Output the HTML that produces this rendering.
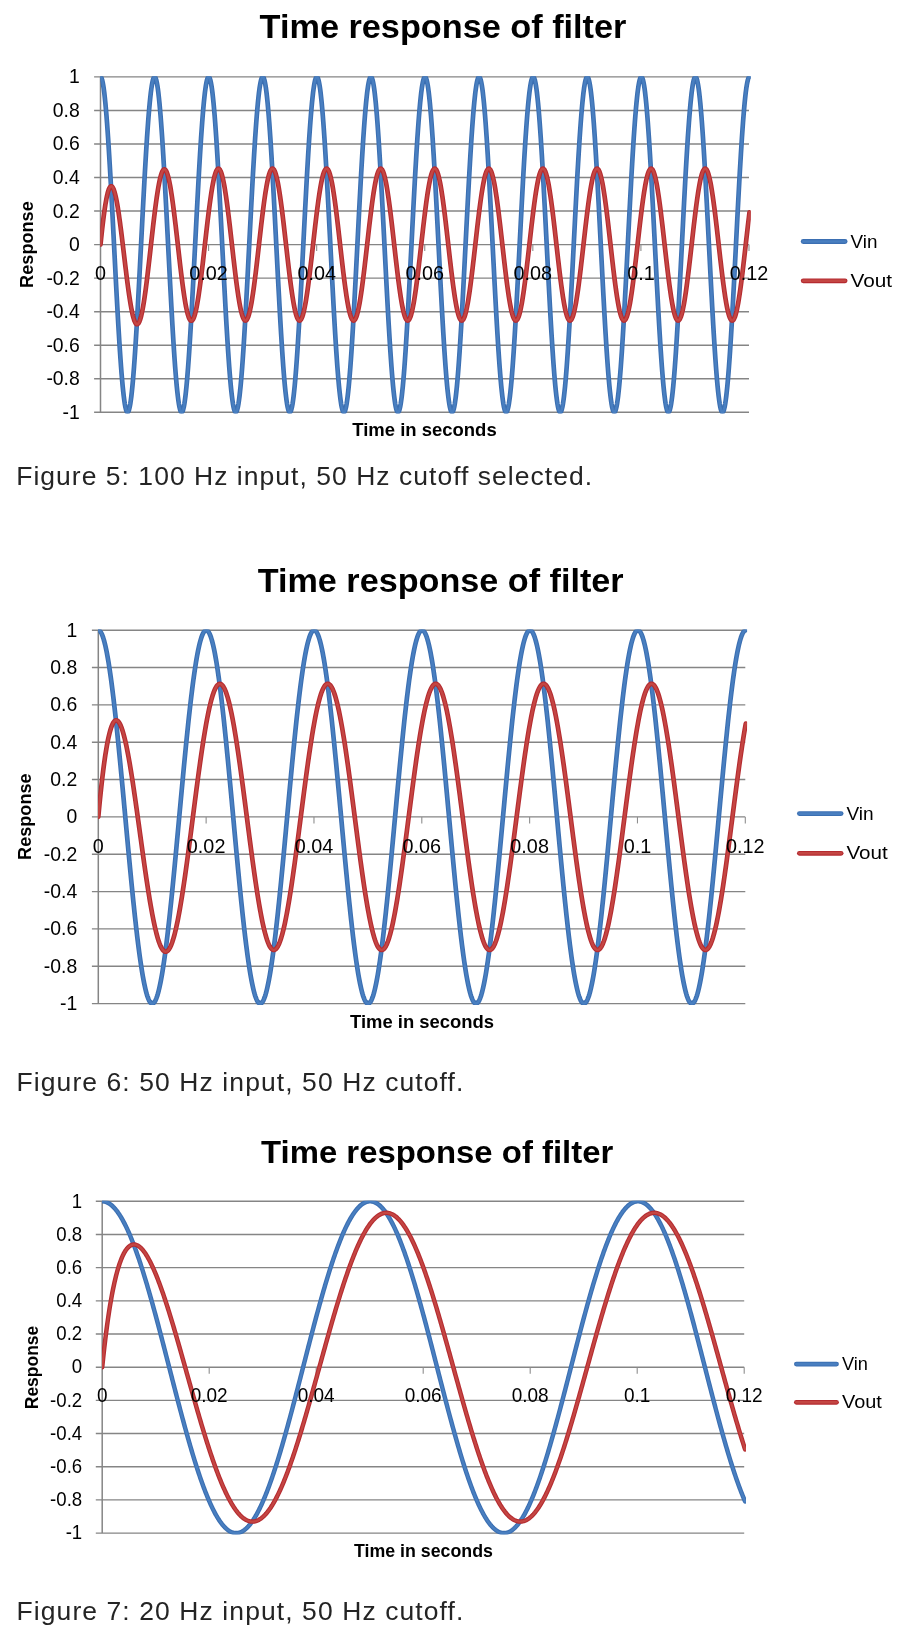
<!DOCTYPE html>
<html><head><meta charset="utf-8"><title>Time response of filter</title>
<style>
html,body{margin:0;padding:0;background:#fff;}
svg{display:block;will-change:transform;}
text{font-family:"Liberation Sans",sans-serif;fill:#000;}
.tk{font-size:18px;}
.ti{font-size:33px;font-weight:bold;}
.ax{font-size:18px;font-weight:bold;}
.cp{font-size:25px;fill:#242424;}
</style></head><body>
<svg width="900" height="1647" viewBox="0 0 900 1647">
<rect width="900" height="1647" fill="#fff"/>
<clipPath id="c1"><rect x="100.3" y="76.30000000000001" width="650.5" height="337.3"/></clipPath>
<line x1="94.10" y1="76.90" x2="749.00" y2="76.90" stroke="#858585" stroke-width="1.4"/>
<line x1="94.10" y1="110.44" x2="749.00" y2="110.44" stroke="#858585" stroke-width="1.4"/>
<line x1="94.10" y1="143.98" x2="749.00" y2="143.98" stroke="#858585" stroke-width="1.4"/>
<line x1="94.10" y1="177.52" x2="749.00" y2="177.52" stroke="#858585" stroke-width="1.4"/>
<line x1="94.10" y1="211.06" x2="749.00" y2="211.06" stroke="#858585" stroke-width="1.4"/>
<line x1="94.10" y1="244.60" x2="749.00" y2="244.60" stroke="#858585" stroke-width="1.4"/>
<line x1="94.10" y1="278.14" x2="749.00" y2="278.14" stroke="#858585" stroke-width="1.4"/>
<line x1="94.10" y1="311.68" x2="749.00" y2="311.68" stroke="#858585" stroke-width="1.4"/>
<line x1="94.10" y1="345.22" x2="749.00" y2="345.22" stroke="#858585" stroke-width="1.4"/>
<line x1="94.10" y1="378.76" x2="749.00" y2="378.76" stroke="#858585" stroke-width="1.4"/>
<line x1="94.10" y1="412.30" x2="749.00" y2="412.30" stroke="#858585" stroke-width="1.4"/>
<line x1="100.50" y1="76.90" x2="100.50" y2="412.30" stroke="#858585" stroke-width="1.5"/>
<line x1="208.58" y1="244.60" x2="208.58" y2="251.10" stroke="#8e8e8e" stroke-width="1.1"/>
<line x1="316.67" y1="244.60" x2="316.67" y2="251.10" stroke="#8e8e8e" stroke-width="1.1"/>
<line x1="424.75" y1="244.60" x2="424.75" y2="251.10" stroke="#8e8e8e" stroke-width="1.1"/>
<line x1="532.83" y1="244.60" x2="532.83" y2="251.10" stroke="#8e8e8e" stroke-width="1.1"/>
<line x1="640.92" y1="244.60" x2="640.92" y2="251.10" stroke="#8e8e8e" stroke-width="1.1"/>
<line x1="749.00" y1="244.60" x2="749.00" y2="251.10" stroke="#8e8e8e" stroke-width="1.1"/>
<text x="79.80" y="83.40" text-anchor="end" textLength="10.78" lengthAdjust="spacingAndGlyphs" class="tk" style="font-size:20.1px">1</text>
<text x="79.80" y="116.94" text-anchor="end" textLength="26.96" lengthAdjust="spacingAndGlyphs" class="tk" style="font-size:20.1px">0.8</text>
<text x="79.80" y="150.48" text-anchor="end" textLength="26.96" lengthAdjust="spacingAndGlyphs" class="tk" style="font-size:20.1px">0.6</text>
<text x="79.80" y="184.02" text-anchor="end" textLength="26.96" lengthAdjust="spacingAndGlyphs" class="tk" style="font-size:20.1px">0.4</text>
<text x="79.80" y="217.56" text-anchor="end" textLength="26.96" lengthAdjust="spacingAndGlyphs" class="tk" style="font-size:20.1px">0.2</text>
<text x="79.80" y="251.10" text-anchor="end" textLength="10.78" lengthAdjust="spacingAndGlyphs" class="tk" style="font-size:20.1px">0</text>
<text x="79.80" y="284.64" text-anchor="end" textLength="33.42" lengthAdjust="spacingAndGlyphs" class="tk" style="font-size:20.1px">-0.2</text>
<text x="79.80" y="318.18" text-anchor="end" textLength="33.42" lengthAdjust="spacingAndGlyphs" class="tk" style="font-size:20.1px">-0.4</text>
<text x="79.80" y="351.72" text-anchor="end" textLength="33.42" lengthAdjust="spacingAndGlyphs" class="tk" style="font-size:20.1px">-0.6</text>
<text x="79.80" y="385.26" text-anchor="end" textLength="33.42" lengthAdjust="spacingAndGlyphs" class="tk" style="font-size:20.1px">-0.8</text>
<text x="79.80" y="418.80" text-anchor="end" textLength="17.24" lengthAdjust="spacingAndGlyphs" class="tk" style="font-size:20.1px">-1</text>
<defs><path id="pi1" d="M100.50,76.90 L101.04,77.23 L101.58,78.22 L102.12,79.87 L102.66,82.17 L103.20,85.11 L103.75,88.68 L104.29,92.86 L104.83,97.64 L105.37,103.01 L105.91,108.93 L106.45,115.38 L106.99,122.35 L107.53,129.80 L108.07,137.70 L108.61,146.03 L109.15,154.74 L109.69,163.81 L110.23,173.20 L110.78,182.87 L111.32,192.78 L111.86,202.89 L112.40,213.18 L112.94,223.58 L113.48,234.07 L114.02,244.60 L114.56,255.13 L115.10,265.62 L115.64,276.02 L116.18,286.31 L116.72,296.42 L117.27,306.33 L117.81,316.00 L118.35,325.39 L118.89,334.46 L119.43,343.17 L119.97,351.50 L120.51,359.40 L121.05,366.85 L121.59,373.82 L122.13,380.27 L122.67,386.19 L123.22,391.56 L123.76,396.34 L124.30,400.52 L124.84,404.09 L125.38,407.03 L125.92,409.33 L126.46,410.98 L127.00,411.97 L127.54,412.30 L128.08,411.97 L128.62,410.98 L129.16,409.33 L129.70,407.03 L130.25,404.09 L130.79,400.52 L131.33,396.34 L131.87,391.56 L132.41,386.19 L132.95,380.27 L133.49,373.82 L134.03,366.85 L134.57,359.40 L135.11,351.50 L135.65,343.17 L136.19,334.46 L136.74,325.39 L137.28,316.00 L137.82,306.33 L138.36,296.42 L138.90,286.31 L139.44,276.02 L139.98,265.62 L140.52,255.13 L141.06,244.60 L141.60,234.07 L142.14,223.58 L142.69,213.18 L143.23,202.89 L143.77,192.78 L144.31,182.87 L144.85,173.20 L145.39,163.81 L145.93,154.74 L146.47,146.03 L147.01,137.70 L147.55,129.80 L148.09,122.35 L148.63,115.38 L149.18,108.93 L149.72,103.01 L150.26,97.64 L150.80,92.86 L151.34,88.68 L151.88,85.11 L152.42,82.17 L152.96,79.87 L153.50,78.22 L154.04,77.23 L154.58,76.90 L155.12,77.23 L155.66,78.22 L156.21,79.87 L156.75,82.17 L157.29,85.11 L157.83,88.68 L158.37,92.86 L158.91,97.64 L159.45,103.01 L159.99,108.93 L160.53,115.38 L161.07,122.35 L161.61,129.80 L162.16,137.70 L162.70,146.03 L163.24,154.74 L163.78,163.81 L164.32,173.20 L164.86,182.87 L165.40,192.78 L165.94,202.89 L166.48,213.18 L167.02,223.58 L167.56,234.07 L168.10,244.60 L168.64,255.13 L169.19,265.62 L169.73,276.02 L170.27,286.31 L170.81,296.42 L171.35,306.33 L171.89,316.00 L172.43,325.39 L172.97,334.46 L173.51,343.17 L174.05,351.50 L174.59,359.40 L175.13,366.85 L175.68,373.82 L176.22,380.27 L176.76,386.19 L177.30,391.56 L177.84,396.34 L178.38,400.52 L178.92,404.09 L179.46,407.03 L180.00,409.33 L180.54,410.98 L181.08,411.97 L181.62,412.30 L182.17,411.97 L182.71,410.98 L183.25,409.33 L183.79,407.03 L184.33,404.09 L184.87,400.52 L185.41,396.34 L185.95,391.56 L186.49,386.19 L187.03,380.27 L187.57,373.82 L188.12,366.85 L188.66,359.40 L189.20,351.50 L189.74,343.17 L190.28,334.46 L190.82,325.39 L191.36,316.00 L191.90,306.33 L192.44,296.42 L192.98,286.31 L193.52,276.02 L194.06,265.62 L194.60,255.13 L195.15,244.60 L195.69,234.07 L196.23,223.58 L196.77,213.18 L197.31,202.89 L197.85,192.78 L198.39,182.87 L198.93,173.20 L199.47,163.81 L200.01,154.74 L200.55,146.03 L201.09,137.70 L201.64,129.80 L202.18,122.35 L202.72,115.38 L203.26,108.93 L203.80,103.01 L204.34,97.64 L204.88,92.86 L205.42,88.68 L205.96,85.11 L206.50,82.17 L207.04,79.87 L207.58,78.22 L208.13,77.23 L208.67,76.90 L209.21,77.23 L209.75,78.22 L210.29,79.87 L210.83,82.17 L211.37,85.11 L211.91,88.68 L212.45,92.86 L212.99,97.64 L213.53,103.01 L214.07,108.93 L214.62,115.38 L215.16,122.35 L215.70,129.80 L216.24,137.70 L216.78,146.03 L217.32,154.74 L217.86,163.81 L218.40,173.20 L218.94,182.87 L219.48,192.78 L220.02,202.89 L220.56,213.18 L221.11,223.58 L221.65,234.07 L222.19,244.60 L222.73,255.13 L223.27,265.62 L223.81,276.02 L224.35,286.31 L224.89,296.42 L225.43,306.33 L225.97,316.00 L226.51,325.39 L227.06,334.46 L227.60,343.17 L228.14,351.50 L228.68,359.40 L229.22,366.85 L229.76,373.82 L230.30,380.27 L230.84,386.19 L231.38,391.56 L231.92,396.34 L232.46,400.52 L233.00,404.09 L233.54,407.03 L234.09,409.33 L234.63,410.98 L235.17,411.97 L235.71,412.30 L236.25,411.97 L236.79,410.98 L237.33,409.33 L237.87,407.03 L238.41,404.09 L238.95,400.52 L239.49,396.34 L240.03,391.56 L240.58,386.19 L241.12,380.27 L241.66,373.82 L242.20,366.85 L242.74,359.40 L243.28,351.50 L243.82,343.17 L244.36,334.46 L244.90,325.39 L245.44,316.00 L245.98,306.33 L246.52,296.42 L247.07,286.31 L247.61,276.02 L248.15,265.62 L248.69,255.13 L249.23,244.60 L249.77,234.07 L250.31,223.58 L250.85,213.18 L251.39,202.89 L251.93,192.78 L252.47,182.87 L253.01,173.20 L253.56,163.81 L254.10,154.74 L254.64,146.03 L255.18,137.70 L255.72,129.80 L256.26,122.35 L256.80,115.38 L257.34,108.93 L257.88,103.01 L258.42,97.64 L258.96,92.86 L259.50,88.68 L260.05,85.11 L260.59,82.17 L261.13,79.87 L261.67,78.22 L262.21,77.23 L262.75,76.90 L263.29,77.23 L263.83,78.22 L264.37,79.87 L264.91,82.17 L265.45,85.11 L266.00,88.68 L266.54,92.86 L267.08,97.64 L267.62,103.01 L268.16,108.93 L268.70,115.38 L269.24,122.35 L269.78,129.80 L270.32,137.70 L270.86,146.03 L271.40,154.74 L271.94,163.81 L272.49,173.20 L273.03,182.87 L273.57,192.78 L274.11,202.89 L274.65,213.18 L275.19,223.58 L275.73,234.07 L276.27,244.60 L276.81,255.13 L277.35,265.62 L277.89,276.02 L278.43,286.31 L278.98,296.42 L279.52,306.33 L280.06,316.00 L280.60,325.39 L281.14,334.46 L281.68,343.17 L282.22,351.50 L282.76,359.40 L283.30,366.85 L283.84,373.82 L284.38,380.27 L284.92,386.19 L285.46,391.56 L286.01,396.34 L286.55,400.52 L287.09,404.09 L287.63,407.03 L288.17,409.33 L288.71,410.98 L289.25,411.97 L289.79,412.30 L290.33,411.97 L290.87,410.98 L291.41,409.33 L291.95,407.03 L292.50,404.09 L293.04,400.52 L293.58,396.34 L294.12,391.56 L294.66,386.19 L295.20,380.27 L295.74,373.82 L296.28,366.85 L296.82,359.40 L297.36,351.50 L297.90,343.17 L298.44,334.46 L298.99,325.39 L299.53,316.00 L300.07,306.33 L300.61,296.42 L301.15,286.31 L301.69,276.02 L302.23,265.62 L302.77,255.13 L303.31,244.60 L303.85,234.07 L304.39,223.58 L304.93,213.18 L305.48,202.89 L306.02,192.78 L306.56,182.87 L307.10,173.20 L307.64,163.81 L308.18,154.74 L308.72,146.03 L309.26,137.70 L309.80,129.80 L310.34,122.35 L310.88,115.38 L311.43,108.93 L311.97,103.01 L312.51,97.64 L313.05,92.86 L313.59,88.68 L314.13,85.11 L314.67,82.17 L315.21,79.87 L315.75,78.22 L316.29,77.23 L316.83,76.90 L317.37,77.23 L317.92,78.22 L318.46,79.87 L319.00,82.17 L319.54,85.11 L320.08,88.68 L320.62,92.86 L321.16,97.64 L321.70,103.01 L322.24,108.93 L322.78,115.38 L323.32,122.35 L323.86,129.80 L324.40,137.70 L324.95,146.03 L325.49,154.74 L326.03,163.81 L326.57,173.20 L327.11,182.87 L327.65,192.78 L328.19,202.89 L328.73,213.18 L329.27,223.58 L329.81,234.07 L330.35,244.60 L330.89,255.13 L331.44,265.62 L331.98,276.02 L332.52,286.31 L333.06,296.42 L333.60,306.33 L334.14,316.00 L334.68,325.39 L335.22,334.46 L335.76,343.17 L336.30,351.50 L336.84,359.40 L337.38,366.85 L337.93,373.82 L338.47,380.27 L339.01,386.19 L339.55,391.56 L340.09,396.34 L340.63,400.52 L341.17,404.09 L341.71,407.03 L342.25,409.33 L342.79,410.98 L343.33,411.97 L343.88,412.30 L344.42,411.97 L344.96,410.98 L345.50,409.33 L346.04,407.03 L346.58,404.09 L347.12,400.52 L347.66,396.34 L348.20,391.56 L348.74,386.19 L349.28,380.27 L349.82,373.82 L350.37,366.85 L350.91,359.40 L351.45,351.50 L351.99,343.17 L352.53,334.46 L353.07,325.39 L353.61,316.00 L354.15,306.33 L354.69,296.42 L355.23,286.31 L355.77,276.02 L356.31,265.62 L356.86,255.13 L357.40,244.60 L357.94,234.07 L358.48,223.58 L359.02,213.18 L359.56,202.89 L360.10,192.78 L360.64,182.87 L361.18,173.20 L361.72,163.81 L362.26,154.74 L362.80,146.03 L363.35,137.70 L363.89,129.80 L364.43,122.35 L364.97,115.38 L365.51,108.93 L366.05,103.01 L366.59,97.64 L367.13,92.86 L367.67,88.68 L368.21,85.11 L368.75,82.17 L369.29,79.87 L369.84,78.22 L370.38,77.23 L370.92,76.90 L371.46,77.23 L372.00,78.22 L372.54,79.87 L373.08,82.17 L373.62,85.11 L374.16,88.68 L374.70,92.86 L375.24,97.64 L375.78,103.01 L376.32,108.93 L376.87,115.38 L377.41,122.35 L377.95,129.80 L378.49,137.70 L379.03,146.03 L379.57,154.74 L380.11,163.81 L380.65,173.20 L381.19,182.87 L381.73,192.78 L382.27,202.89 L382.81,213.18 L383.36,223.58 L383.90,234.07 L384.44,244.60 L384.98,255.13 L385.52,265.62 L386.06,276.02 L386.60,286.31 L387.14,296.42 L387.68,306.33 L388.22,316.00 L388.76,325.39 L389.31,334.46 L389.85,343.17 L390.39,351.50 L390.93,359.40 L391.47,366.85 L392.01,373.82 L392.55,380.27 L393.09,386.19 L393.63,391.56 L394.17,396.34 L394.71,400.52 L395.25,404.09 L395.79,407.03 L396.34,409.33 L396.88,410.98 L397.42,411.97 L397.96,412.30 L398.50,411.97 L399.04,410.98 L399.58,409.33 L400.12,407.03 L400.66,404.09 L401.20,400.52 L401.74,396.34 L402.28,391.56 L402.83,386.19 L403.37,380.27 L403.91,373.82 L404.45,366.85 L404.99,359.40 L405.53,351.50 L406.07,343.17 L406.61,334.46 L407.15,325.39 L407.69,316.00 L408.23,306.33 L408.77,296.42 L409.32,286.31 L409.86,276.02 L410.40,265.62 L410.94,255.13 L411.48,244.60 L412.02,234.07 L412.56,223.58 L413.10,213.18 L413.64,202.89 L414.18,192.78 L414.72,182.87 L415.26,173.20 L415.81,163.81 L416.35,154.74 L416.89,146.03 L417.43,137.70 L417.97,129.80 L418.51,122.35 L419.05,115.38 L419.59,108.93 L420.13,103.01 L420.67,97.64 L421.21,92.86 L421.75,88.68 L422.30,85.11 L422.84,82.17 L423.38,79.87 L423.92,78.22 L424.46,77.23 L425.00,76.90 L425.54,77.23 L426.08,78.22 L426.62,79.87 L427.16,82.17 L427.70,85.11 L428.25,88.68 L428.79,92.86 L429.33,97.64 L429.87,103.01 L430.41,108.93 L430.95,115.38 L431.49,122.35 L432.03,129.80 L432.57,137.70 L433.11,146.03 L433.65,154.74 L434.19,163.81 L434.73,173.20 L435.28,182.87 L435.82,192.78 L436.36,202.89 L436.90,213.18 L437.44,223.58 L437.98,234.07 L438.52,244.60 L439.06,255.13 L439.60,265.62 L440.14,276.02 L440.68,286.31 L441.23,296.42 L441.77,306.33 L442.31,316.00 L442.85,325.39 L443.39,334.46 L443.93,343.17 L444.47,351.50 L445.01,359.40 L445.55,366.85 L446.09,373.82 L446.63,380.27 L447.17,386.19 L447.71,391.56 L448.26,396.34 L448.80,400.52 L449.34,404.09 L449.88,407.03 L450.42,409.33 L450.96,410.98 L451.50,411.97 L452.04,412.30 L452.58,411.97 L453.12,410.98 L453.66,409.33 L454.21,407.03 L454.75,404.09 L455.29,400.52 L455.83,396.34 L456.37,391.56 L456.91,386.19 L457.45,380.27 L457.99,373.82 L458.53,366.85 L459.07,359.40 L459.61,351.50 L460.15,343.17 L460.69,334.46 L461.24,325.39 L461.78,316.00 L462.32,306.33 L462.86,296.42 L463.40,286.31 L463.94,276.02 L464.48,265.62 L465.02,255.13 L465.56,244.60 L466.10,234.07 L466.64,223.58 L467.19,213.18 L467.73,202.89 L468.27,192.78 L468.81,182.87 L469.35,173.20 L469.89,163.81 L470.43,154.74 L470.97,146.03 L471.51,137.70 L472.05,129.80 L472.59,122.35 L473.13,115.38 L473.67,108.93 L474.22,103.01 L474.76,97.64 L475.30,92.86 L475.84,88.68 L476.38,85.11 L476.92,82.17 L477.46,79.87 L478.00,78.22 L478.54,77.23 L479.08,76.90 L479.62,77.23 L480.16,78.22 L480.71,79.87 L481.25,82.17 L481.79,85.11 L482.33,88.68 L482.87,92.86 L483.41,97.64 L483.95,103.01 L484.49,108.93 L485.03,115.38 L485.57,122.35 L486.11,129.80 L486.65,137.70 L487.20,146.03 L487.74,154.74 L488.28,163.81 L488.82,173.20 L489.36,182.87 L489.90,192.78 L490.44,202.89 L490.98,213.18 L491.52,223.58 L492.06,234.07 L492.60,244.60 L493.14,255.13 L493.69,265.62 L494.23,276.02 L494.77,286.31 L495.31,296.42 L495.85,306.33 L496.39,316.00 L496.93,325.39 L497.47,334.46 L498.01,343.17 L498.55,351.50 L499.09,359.40 L499.63,366.85 L500.18,373.82 L500.72,380.27 L501.26,386.19 L501.80,391.56 L502.34,396.34 L502.88,400.52 L503.42,404.09 L503.96,407.03 L504.50,409.33 L505.04,410.98 L505.58,411.97 L506.12,412.30 L506.67,411.97 L507.21,410.98 L507.75,409.33 L508.29,407.03 L508.83,404.09 L509.37,400.52 L509.91,396.34 L510.45,391.56 L510.99,386.19 L511.53,380.27 L512.07,373.82 L512.62,366.85 L513.16,359.40 L513.70,351.50 L514.24,343.17 L514.78,334.46 L515.32,325.39 L515.86,316.00 L516.40,306.33 L516.94,296.42 L517.48,286.31 L518.02,276.02 L518.56,265.62 L519.11,255.13 L519.65,244.60 L520.19,234.07 L520.73,223.58 L521.27,213.18 L521.81,202.89 L522.35,192.78 L522.89,182.87 L523.43,173.20 L523.97,163.81 L524.51,154.74 L525.05,146.03 L525.60,137.70 L526.14,129.80 L526.68,122.35 L527.22,115.38 L527.76,108.93 L528.30,103.01 L528.84,97.64 L529.38,92.86 L529.92,88.68 L530.46,85.11 L531.00,82.17 L531.54,79.87 L532.09,78.22 L532.63,77.23 L533.17,76.90 L533.71,77.23 L534.25,78.22 L534.79,79.87 L535.33,82.17 L535.87,85.11 L536.41,88.68 L536.95,92.86 L537.49,97.64 L538.03,103.01 L538.58,108.93 L539.12,115.38 L539.66,122.35 L540.20,129.80 L540.74,137.70 L541.28,146.03 L541.82,154.74 L542.36,163.81 L542.90,173.20 L543.44,182.87 L543.98,192.78 L544.52,202.89 L545.07,213.18 L545.61,223.58 L546.15,234.07 L546.69,244.60 L547.23,255.13 L547.77,265.62 L548.31,276.02 L548.85,286.31 L549.39,296.42 L549.93,306.33 L550.47,316.00 L551.01,325.39 L551.55,334.46 L552.10,343.17 L552.64,351.50 L553.18,359.40 L553.72,366.85 L554.26,373.82 L554.80,380.27 L555.34,386.19 L555.88,391.56 L556.42,396.34 L556.96,400.52 L557.50,404.09 L558.04,407.03 L558.59,409.33 L559.13,410.98 L559.67,411.97 L560.21,412.30 L560.75,411.97 L561.29,410.98 L561.83,409.33 L562.37,407.03 L562.91,404.09 L563.45,400.52 L563.99,396.34 L564.53,391.56 L565.08,386.19 L565.62,380.27 L566.16,373.82 L566.70,366.85 L567.24,359.40 L567.78,351.50 L568.32,343.17 L568.86,334.46 L569.40,325.39 L569.94,316.00 L570.48,306.33 L571.02,296.42 L571.57,286.31 L572.11,276.02 L572.65,265.62 L573.19,255.13 L573.73,244.60 L574.27,234.07 L574.81,223.58 L575.35,213.18 L575.89,202.89 L576.43,192.78 L576.97,182.87 L577.51,173.20 L578.06,163.81 L578.60,154.74 L579.14,146.03 L579.68,137.70 L580.22,129.80 L580.76,122.35 L581.30,115.38 L581.84,108.93 L582.38,103.01 L582.92,97.64 L583.46,92.86 L584.00,88.68 L584.55,85.11 L585.09,82.17 L585.63,79.87 L586.17,78.22 L586.71,77.23 L587.25,76.90 L587.79,77.23 L588.33,78.22 L588.87,79.87 L589.41,82.17 L589.95,85.11 L590.49,88.68 L591.04,92.86 L591.58,97.64 L592.12,103.01 L592.66,108.93 L593.20,115.38 L593.74,122.35 L594.28,129.80 L594.82,137.70 L595.36,146.03 L595.90,154.74 L596.44,163.81 L596.98,173.20 L597.53,182.87 L598.07,192.78 L598.61,202.89 L599.15,213.18 L599.69,223.58 L600.23,234.07 L600.77,244.60 L601.31,255.13 L601.85,265.62 L602.39,276.02 L602.93,286.31 L603.47,296.42 L604.02,306.33 L604.56,316.00 L605.10,325.39 L605.64,334.46 L606.18,343.17 L606.72,351.50 L607.26,359.40 L607.80,366.85 L608.34,373.82 L608.88,380.27 L609.42,386.19 L609.96,391.56 L610.51,396.34 L611.05,400.52 L611.59,404.09 L612.13,407.03 L612.67,409.33 L613.21,410.98 L613.75,411.97 L614.29,412.30 L614.83,411.97 L615.37,410.98 L615.91,409.33 L616.45,407.03 L617.00,404.09 L617.54,400.52 L618.08,396.34 L618.62,391.56 L619.16,386.19 L619.70,380.27 L620.24,373.82 L620.78,366.85 L621.32,359.40 L621.86,351.50 L622.40,343.17 L622.95,334.46 L623.49,325.39 L624.03,316.00 L624.57,306.33 L625.11,296.42 L625.65,286.31 L626.19,276.02 L626.73,265.62 L627.27,255.13 L627.81,244.60 L628.35,234.07 L628.89,223.58 L629.44,213.18 L629.98,202.89 L630.52,192.78 L631.06,182.87 L631.60,173.20 L632.14,163.81 L632.68,154.74 L633.22,146.03 L633.76,137.70 L634.30,129.80 L634.84,122.35 L635.38,115.38 L635.92,108.93 L636.47,103.01 L637.01,97.64 L637.55,92.86 L638.09,88.68 L638.63,85.11 L639.17,82.17 L639.71,79.87 L640.25,78.22 L640.79,77.23 L641.33,76.90 L641.87,77.23 L642.41,78.22 L642.96,79.87 L643.50,82.17 L644.04,85.11 L644.58,88.68 L645.12,92.86 L645.66,97.64 L646.20,103.01 L646.74,108.93 L647.28,115.38 L647.82,122.35 L648.36,129.80 L648.90,137.70 L649.45,146.03 L649.99,154.74 L650.53,163.81 L651.07,173.20 L651.61,182.87 L652.15,192.78 L652.69,202.89 L653.23,213.18 L653.77,223.58 L654.31,234.07 L654.85,244.60 L655.40,255.13 L655.94,265.62 L656.48,276.02 L657.02,286.31 L657.56,296.42 L658.10,306.33 L658.64,316.00 L659.18,325.39 L659.72,334.46 L660.26,343.17 L660.80,351.50 L661.34,359.40 L661.88,366.85 L662.43,373.82 L662.97,380.27 L663.51,386.19 L664.05,391.56 L664.59,396.34 L665.13,400.52 L665.67,404.09 L666.21,407.03 L666.75,409.33 L667.29,410.98 L667.83,411.97 L668.38,412.30 L668.92,411.97 L669.46,410.98 L670.00,409.33 L670.54,407.03 L671.08,404.09 L671.62,400.52 L672.16,396.34 L672.70,391.56 L673.24,386.19 L673.78,380.27 L674.32,373.82 L674.86,366.85 L675.41,359.40 L675.95,351.50 L676.49,343.17 L677.03,334.46 L677.57,325.39 L678.11,316.00 L678.65,306.33 L679.19,296.42 L679.73,286.31 L680.27,276.02 L680.81,265.62 L681.36,255.13 L681.90,244.60 L682.44,234.07 L682.98,223.58 L683.52,213.18 L684.06,202.89 L684.60,192.78 L685.14,182.87 L685.68,173.20 L686.22,163.81 L686.76,154.74 L687.30,146.03 L687.84,137.70 L688.39,129.80 L688.93,122.35 L689.47,115.38 L690.01,108.93 L690.55,103.01 L691.09,97.64 L691.63,92.86 L692.17,88.68 L692.71,85.11 L693.25,82.17 L693.79,79.87 L694.34,78.22 L694.88,77.23 L695.42,76.90 L695.96,77.23 L696.50,78.22 L697.04,79.87 L697.58,82.17 L698.12,85.11 L698.66,88.68 L699.20,92.86 L699.74,97.64 L700.28,103.01 L700.82,108.93 L701.37,115.38 L701.91,122.35 L702.45,129.80 L702.99,137.70 L703.53,146.03 L704.07,154.74 L704.61,163.81 L705.15,173.20 L705.69,182.87 L706.23,192.78 L706.77,202.89 L707.31,213.18 L707.86,223.58 L708.40,234.07 L708.94,244.60 L709.48,255.13 L710.02,265.62 L710.56,276.02 L711.10,286.31 L711.64,296.42 L712.18,306.33 L712.72,316.00 L713.26,325.39 L713.80,334.46 L714.35,343.17 L714.89,351.50 L715.43,359.40 L715.97,366.85 L716.51,373.82 L717.05,380.27 L717.59,386.19 L718.13,391.56 L718.67,396.34 L719.21,400.52 L719.75,404.09 L720.29,407.03 L720.84,409.33 L721.38,410.98 L721.92,411.97 L722.46,412.30 L723.00,411.97 L723.54,410.98 L724.08,409.33 L724.62,407.03 L725.16,404.09 L725.70,400.52 L726.24,396.34 L726.78,391.56 L727.33,386.19 L727.87,380.27 L728.41,373.82 L728.95,366.85 L729.49,359.40 L730.03,351.50 L730.57,343.17 L731.11,334.46 L731.65,325.39 L732.19,316.00 L732.73,306.33 L733.27,296.42 L733.82,286.31 L734.36,276.02 L734.90,265.62 L735.44,255.13 L735.98,244.60 L736.52,234.07 L737.06,223.58 L737.60,213.18 L738.14,202.89 L738.68,192.78 L739.22,182.87 L739.76,173.20 L740.31,163.81 L740.85,154.74 L741.39,146.03 L741.93,137.70 L742.47,129.80 L743.01,122.35 L743.55,115.38 L744.09,108.93 L744.63,103.01 L745.17,97.64 L745.71,92.86 L746.25,88.68 L746.80,85.11 L747.34,82.17 L747.88,79.87 L748.42,78.22 L748.96,77.23 L749.50,76.90"/><path id="po1" d="M100.50,244.60 L101.04,239.33 L101.58,234.24 L102.12,229.34 L102.66,224.64 L103.20,220.17 L103.75,215.92 L104.29,211.93 L104.83,208.18 L105.37,204.71 L105.91,201.52 L106.45,198.61 L106.99,195.99 L107.53,193.68 L108.07,191.67 L108.61,189.98 L109.15,188.60 L109.69,187.53 L110.23,186.79 L110.78,186.36 L111.32,186.25 L111.86,186.46 L112.40,186.97 L112.94,187.80 L113.48,188.92 L114.02,190.34 L114.56,192.04 L115.10,194.03 L115.64,196.27 L116.18,198.78 L116.72,201.53 L117.27,204.51 L117.81,207.71 L118.35,211.11 L118.89,214.70 L119.43,218.46 L119.97,222.38 L120.51,226.44 L121.05,230.62 L121.59,234.90 L122.13,239.26 L122.67,243.69 L123.22,248.17 L123.76,252.67 L124.30,257.18 L124.84,261.69 L125.38,266.16 L125.92,270.59 L126.46,274.95 L127.00,279.22 L127.54,283.39 L128.08,287.44 L128.62,291.35 L129.16,295.11 L129.70,298.70 L130.25,302.10 L130.79,305.31 L131.33,308.30 L131.87,311.06 L132.41,313.59 L132.95,315.87 L133.49,317.90 L134.03,319.65 L134.57,321.14 L135.11,322.34 L135.65,323.25 L136.19,323.88 L136.74,324.21 L137.28,324.25 L137.82,323.99 L138.36,323.43 L138.90,322.59 L139.44,321.45 L139.98,320.02 L140.52,318.31 L141.06,316.33 L141.60,314.07 L142.14,311.56 L142.69,308.79 L143.23,305.79 L143.77,302.56 L144.31,299.11 L144.85,295.46 L145.39,291.62 L145.93,287.60 L146.47,283.43 L147.01,279.11 L147.55,274.67 L148.09,270.12 L148.63,265.48 L149.18,260.76 L149.72,255.99 L150.26,251.18 L150.80,246.36 L151.34,241.54 L151.88,236.74 L152.42,231.97 L152.96,227.27 L153.50,222.64 L154.04,218.10 L154.58,213.67 L155.12,209.38 L155.66,205.22 L156.21,201.23 L156.75,197.42 L157.29,193.80 L157.83,190.39 L158.37,187.19 L158.91,184.23 L159.45,181.51 L159.99,179.04 L160.53,176.84 L161.07,174.91 L161.61,173.26 L162.16,171.89 L162.70,170.82 L163.24,170.04 L163.78,169.56 L164.32,169.38 L164.86,169.50 L165.40,169.92 L165.94,170.64 L166.48,171.65 L167.02,172.95 L167.56,174.54 L168.10,176.41 L168.64,178.56 L169.19,180.96 L169.73,183.62 L170.27,186.52 L170.81,189.66 L171.35,193.01 L171.89,196.57 L172.43,200.33 L172.97,204.25 L173.51,208.35 L174.05,212.58 L174.59,216.94 L175.13,221.42 L175.68,225.99 L176.22,230.63 L176.76,235.33 L177.30,240.07 L177.84,244.83 L178.38,249.59 L178.92,254.33 L179.46,259.04 L180.00,263.69 L180.54,268.26 L181.08,272.75 L181.62,277.12 L182.17,281.37 L182.71,285.47 L183.25,289.41 L183.79,293.18 L184.33,296.76 L184.87,300.13 L185.41,303.28 L185.95,306.21 L186.49,308.89 L187.03,311.32 L187.57,313.48 L188.12,315.38 L188.66,317.00 L189.20,318.33 L189.74,319.37 L190.28,320.12 L190.82,320.57 L191.36,320.72 L191.90,320.57 L192.44,320.12 L192.98,319.38 L193.52,318.34 L194.06,317.01 L194.60,315.40 L195.15,313.50 L195.69,311.34 L196.23,308.91 L196.77,306.23 L197.31,303.31 L197.85,300.15 L198.39,296.78 L198.93,293.20 L199.47,289.43 L200.01,285.48 L200.55,281.38 L201.09,277.12 L201.64,272.74 L202.18,268.25 L202.72,263.67 L203.26,259.01 L203.80,254.30 L204.34,249.54 L204.88,244.77 L205.42,240.00 L205.96,235.25 L206.50,230.53 L207.04,225.87 L207.58,221.28 L208.13,216.79 L208.67,212.40 L209.21,208.15 L209.75,204.03 L210.29,200.08 L210.83,196.30 L211.37,192.72 L211.91,189.34 L212.45,186.17 L212.99,183.24 L213.53,180.55 L214.07,178.12 L214.62,175.94 L215.16,174.04 L215.70,172.42 L216.24,171.08 L216.78,170.03 L217.32,169.28 L217.86,168.82 L218.40,168.66 L218.94,168.80 L219.48,169.25 L220.02,169.99 L220.56,171.02 L221.11,172.34 L221.65,173.95 L222.19,175.84 L222.73,178.00 L223.27,180.43 L223.81,183.10 L224.35,186.02 L224.89,189.17 L225.43,192.54 L225.97,196.12 L226.51,199.88 L227.06,203.83 L227.60,207.93 L228.14,212.18 L228.68,216.55 L229.22,221.04 L229.76,225.62 L230.30,230.28 L230.84,234.99 L231.38,239.74 L231.92,244.51 L232.46,249.28 L233.00,254.03 L233.54,258.75 L234.09,263.40 L234.63,267.99 L235.17,272.48 L235.71,276.86 L236.25,281.12 L236.79,285.23 L237.33,289.18 L237.87,292.95 L238.41,296.54 L238.95,299.92 L239.49,303.08 L240.03,306.01 L240.58,308.69 L241.12,311.13 L241.66,313.30 L242.20,315.20 L242.74,316.83 L243.28,318.16 L243.82,319.21 L244.36,319.96 L244.90,320.42 L245.44,320.57 L245.98,320.43 L246.52,319.99 L247.07,319.25 L247.61,318.21 L248.15,316.89 L248.69,315.28 L249.23,313.39 L249.77,311.23 L250.31,308.80 L250.85,306.12 L251.39,303.20 L251.93,300.05 L252.47,296.68 L253.01,293.11 L253.56,289.34 L254.10,285.40 L254.64,281.29 L255.18,277.04 L255.72,272.67 L256.26,268.18 L256.80,263.60 L257.34,258.94 L257.88,254.23 L258.42,249.48 L258.96,244.71 L259.50,239.94 L260.05,235.18 L260.59,230.47 L261.13,225.81 L261.67,221.23 L262.21,216.73 L262.75,212.35 L263.29,208.09 L263.83,203.98 L264.37,200.03 L264.91,196.26 L265.45,192.67 L266.00,189.29 L266.54,186.13 L267.08,183.20 L267.62,180.52 L268.16,178.08 L268.70,175.91 L269.24,174.01 L269.78,172.38 L270.32,171.05 L270.86,170.00 L271.40,169.25 L271.94,168.79 L272.49,168.63 L273.03,168.78 L273.57,169.22 L274.11,169.96 L274.65,170.99 L275.19,172.32 L275.73,173.93 L276.27,175.82 L276.81,177.98 L277.35,180.40 L277.89,183.08 L278.43,186.00 L278.98,189.15 L279.52,192.52 L280.06,196.10 L280.60,199.86 L281.14,203.81 L281.68,207.91 L282.22,212.16 L282.76,216.54 L283.30,221.03 L283.84,225.61 L284.38,230.26 L284.92,234.98 L285.46,239.73 L286.01,244.50 L286.55,249.27 L287.09,254.02 L287.63,258.73 L288.17,263.39 L288.71,267.98 L289.25,272.47 L289.79,276.85 L290.33,281.11 L290.87,285.22 L291.41,289.17 L291.95,292.94 L292.50,296.53 L293.04,299.91 L293.58,303.07 L294.12,306.00 L294.66,308.69 L295.20,311.12 L295.74,313.29 L296.28,315.20 L296.82,316.82 L297.36,318.16 L297.90,319.20 L298.44,319.96 L298.99,320.41 L299.53,320.57 L300.07,320.43 L300.61,319.98 L301.15,319.24 L301.69,318.21 L302.23,316.88 L302.77,315.27 L303.31,313.38 L303.85,311.22 L304.39,308.80 L304.93,306.12 L305.48,303.20 L306.02,300.05 L306.56,296.68 L307.10,293.10 L307.64,289.34 L308.18,285.39 L308.72,281.29 L309.26,277.04 L309.80,272.66 L310.34,268.17 L310.88,263.59 L311.43,258.94 L311.97,254.22 L312.51,249.47 L313.05,244.70 L313.59,239.93 L314.13,235.18 L314.67,230.47 L315.21,225.81 L315.75,221.22 L316.29,216.73 L316.83,212.35 L317.37,208.09 L317.92,203.98 L318.46,200.03 L319.00,196.26 L319.54,192.67 L320.08,189.29 L320.62,186.13 L321.16,183.20 L321.70,180.51 L322.24,178.08 L322.78,175.91 L323.32,174.00 L323.86,172.38 L324.40,171.04 L324.95,170.00 L325.49,169.24 L326.03,168.79 L326.57,168.63 L327.11,168.78 L327.65,169.22 L328.19,169.96 L328.73,170.99 L329.27,172.32 L329.81,173.93 L330.35,175.82 L330.89,177.98 L331.44,180.40 L331.98,183.08 L332.52,186.00 L333.06,189.15 L333.60,192.52 L334.14,196.10 L334.68,199.86 L335.22,203.81 L335.76,207.91 L336.30,212.16 L336.84,216.54 L337.38,221.03 L337.93,225.61 L338.47,230.26 L339.01,234.98 L339.55,239.73 L340.09,244.50 L340.63,249.27 L341.17,254.02 L341.71,258.73 L342.25,263.39 L342.79,267.98 L343.33,272.47 L343.88,276.85 L344.42,281.11 L344.96,285.22 L345.50,289.17 L346.04,292.94 L346.58,296.53 L347.12,299.91 L347.66,303.07 L348.20,306.00 L348.74,308.69 L349.28,311.12 L349.82,313.29 L350.37,315.20 L350.91,316.82 L351.45,318.16 L351.99,319.20 L352.53,319.96 L353.07,320.41 L353.61,320.57 L354.15,320.42 L354.69,319.98 L355.23,319.24 L355.77,318.21 L356.31,316.88 L356.86,315.27 L357.40,313.38 L357.94,311.22 L358.48,308.80 L359.02,306.12 L359.56,303.20 L360.10,300.05 L360.64,296.68 L361.18,293.10 L361.72,289.34 L362.26,285.39 L362.80,281.29 L363.35,277.04 L363.89,272.66 L364.43,268.17 L364.97,263.59 L365.51,258.94 L366.05,254.22 L366.59,249.47 L367.13,244.70 L367.67,239.93 L368.21,235.18 L368.75,230.47 L369.29,225.81 L369.84,221.22 L370.38,216.73 L370.92,212.35 L371.46,208.09 L372.00,203.98 L372.54,200.03 L373.08,196.26 L373.62,192.67 L374.16,189.29 L374.70,186.13 L375.24,183.20 L375.78,180.51 L376.32,178.08 L376.87,175.91 L377.41,174.00 L377.95,172.38 L378.49,171.04 L379.03,170.00 L379.57,169.24 L380.11,168.79 L380.65,168.63 L381.19,168.78 L381.73,169.22 L382.27,169.96 L382.81,170.99 L383.36,172.32 L383.90,173.93 L384.44,175.82 L384.98,177.98 L385.52,180.40 L386.06,183.08 L386.60,186.00 L387.14,189.15 L387.68,192.52 L388.22,196.10 L388.76,199.86 L389.31,203.81 L389.85,207.91 L390.39,212.16 L390.93,216.54 L391.47,221.03 L392.01,225.61 L392.55,230.26 L393.09,234.98 L393.63,239.73 L394.17,244.50 L394.71,249.27 L395.25,254.02 L395.79,258.73 L396.34,263.39 L396.88,267.98 L397.42,272.47 L397.96,276.85 L398.50,281.11 L399.04,285.22 L399.58,289.17 L400.12,292.94 L400.66,296.53 L401.20,299.91 L401.74,303.07 L402.28,306.00 L402.83,308.69 L403.37,311.12 L403.91,313.29 L404.45,315.20 L404.99,316.82 L405.53,318.16 L406.07,319.20 L406.61,319.96 L407.15,320.41 L407.69,320.57 L408.23,320.42 L408.77,319.98 L409.32,319.24 L409.86,318.21 L410.40,316.88 L410.94,315.27 L411.48,313.38 L412.02,311.22 L412.56,308.80 L413.10,306.12 L413.64,303.20 L414.18,300.05 L414.72,296.68 L415.26,293.10 L415.81,289.34 L416.35,285.39 L416.89,281.29 L417.43,277.04 L417.97,272.66 L418.51,268.17 L419.05,263.59 L419.59,258.94 L420.13,254.22 L420.67,249.47 L421.21,244.70 L421.75,239.93 L422.30,235.18 L422.84,230.47 L423.38,225.81 L423.92,221.22 L424.46,216.73 L425.00,212.35 L425.54,208.09 L426.08,203.98 L426.62,200.03 L427.16,196.26 L427.70,192.67 L428.25,189.29 L428.79,186.13 L429.33,183.20 L429.87,180.51 L430.41,178.08 L430.95,175.91 L431.49,174.00 L432.03,172.38 L432.57,171.04 L433.11,170.00 L433.65,169.24 L434.19,168.79 L434.73,168.63 L435.28,168.78 L435.82,169.22 L436.36,169.96 L436.90,170.99 L437.44,172.32 L437.98,173.93 L438.52,175.82 L439.06,177.98 L439.60,180.40 L440.14,183.08 L440.68,186.00 L441.23,189.15 L441.77,192.52 L442.31,196.10 L442.85,199.86 L443.39,203.81 L443.93,207.91 L444.47,212.16 L445.01,216.54 L445.55,221.03 L446.09,225.61 L446.63,230.26 L447.17,234.98 L447.71,239.73 L448.26,244.50 L448.80,249.27 L449.34,254.02 L449.88,258.73 L450.42,263.39 L450.96,267.98 L451.50,272.47 L452.04,276.85 L452.58,281.11 L453.12,285.22 L453.66,289.17 L454.21,292.94 L454.75,296.53 L455.29,299.91 L455.83,303.07 L456.37,306.00 L456.91,308.69 L457.45,311.12 L457.99,313.29 L458.53,315.20 L459.07,316.82 L459.61,318.16 L460.15,319.20 L460.69,319.96 L461.24,320.41 L461.78,320.57 L462.32,320.42 L462.86,319.98 L463.40,319.24 L463.94,318.21 L464.48,316.88 L465.02,315.27 L465.56,313.38 L466.10,311.22 L466.64,308.80 L467.19,306.12 L467.73,303.20 L468.27,300.05 L468.81,296.68 L469.35,293.10 L469.89,289.34 L470.43,285.39 L470.97,281.29 L471.51,277.04 L472.05,272.66 L472.59,268.17 L473.13,263.59 L473.67,258.94 L474.22,254.22 L474.76,249.47 L475.30,244.70 L475.84,239.93 L476.38,235.18 L476.92,230.47 L477.46,225.81 L478.00,221.22 L478.54,216.73 L479.08,212.35 L479.62,208.09 L480.16,203.98 L480.71,200.03 L481.25,196.26 L481.79,192.67 L482.33,189.29 L482.87,186.13 L483.41,183.20 L483.95,180.51 L484.49,178.08 L485.03,175.91 L485.57,174.00 L486.11,172.38 L486.65,171.04 L487.20,170.00 L487.74,169.24 L488.28,168.79 L488.82,168.63 L489.36,168.78 L489.90,169.22 L490.44,169.96 L490.98,170.99 L491.52,172.32 L492.06,173.93 L492.60,175.82 L493.14,177.98 L493.69,180.40 L494.23,183.08 L494.77,186.00 L495.31,189.15 L495.85,192.52 L496.39,196.10 L496.93,199.86 L497.47,203.81 L498.01,207.91 L498.55,212.16 L499.09,216.54 L499.63,221.03 L500.18,225.61 L500.72,230.26 L501.26,234.98 L501.80,239.73 L502.34,244.50 L502.88,249.27 L503.42,254.02 L503.96,258.73 L504.50,263.39 L505.04,267.98 L505.58,272.47 L506.12,276.85 L506.67,281.11 L507.21,285.22 L507.75,289.17 L508.29,292.94 L508.83,296.53 L509.37,299.91 L509.91,303.07 L510.45,306.00 L510.99,308.69 L511.53,311.12 L512.07,313.29 L512.62,315.20 L513.16,316.82 L513.70,318.16 L514.24,319.20 L514.78,319.96 L515.32,320.41 L515.86,320.57 L516.40,320.42 L516.94,319.98 L517.48,319.24 L518.02,318.21 L518.56,316.88 L519.11,315.27 L519.65,313.38 L520.19,311.22 L520.73,308.80 L521.27,306.12 L521.81,303.20 L522.35,300.05 L522.89,296.68 L523.43,293.10 L523.97,289.34 L524.51,285.39 L525.05,281.29 L525.60,277.04 L526.14,272.66 L526.68,268.17 L527.22,263.59 L527.76,258.94 L528.30,254.22 L528.84,249.47 L529.38,244.70 L529.92,239.93 L530.46,235.18 L531.00,230.47 L531.54,225.81 L532.09,221.22 L532.63,216.73 L533.17,212.35 L533.71,208.09 L534.25,203.98 L534.79,200.03 L535.33,196.26 L535.87,192.67 L536.41,189.29 L536.95,186.13 L537.49,183.20 L538.03,180.51 L538.58,178.08 L539.12,175.91 L539.66,174.00 L540.20,172.38 L540.74,171.04 L541.28,170.00 L541.82,169.24 L542.36,168.79 L542.90,168.63 L543.44,168.78 L543.98,169.22 L544.52,169.96 L545.07,170.99 L545.61,172.32 L546.15,173.93 L546.69,175.82 L547.23,177.98 L547.77,180.40 L548.31,183.08 L548.85,186.00 L549.39,189.15 L549.93,192.52 L550.47,196.10 L551.01,199.86 L551.55,203.81 L552.10,207.91 L552.64,212.16 L553.18,216.54 L553.72,221.03 L554.26,225.61 L554.80,230.26 L555.34,234.98 L555.88,239.73 L556.42,244.50 L556.96,249.27 L557.50,254.02 L558.04,258.73 L558.59,263.39 L559.13,267.98 L559.67,272.47 L560.21,276.85 L560.75,281.11 L561.29,285.22 L561.83,289.17 L562.37,292.94 L562.91,296.53 L563.45,299.91 L563.99,303.07 L564.53,306.00 L565.08,308.69 L565.62,311.12 L566.16,313.29 L566.70,315.20 L567.24,316.82 L567.78,318.16 L568.32,319.20 L568.86,319.96 L569.40,320.41 L569.94,320.57 L570.48,320.42 L571.02,319.98 L571.57,319.24 L572.11,318.21 L572.65,316.88 L573.19,315.27 L573.73,313.38 L574.27,311.22 L574.81,308.80 L575.35,306.12 L575.89,303.20 L576.43,300.05 L576.97,296.68 L577.51,293.10 L578.06,289.34 L578.60,285.39 L579.14,281.29 L579.68,277.04 L580.22,272.66 L580.76,268.17 L581.30,263.59 L581.84,258.94 L582.38,254.22 L582.92,249.47 L583.46,244.70 L584.00,239.93 L584.55,235.18 L585.09,230.47 L585.63,225.81 L586.17,221.22 L586.71,216.73 L587.25,212.35 L587.79,208.09 L588.33,203.98 L588.87,200.03 L589.41,196.26 L589.95,192.67 L590.49,189.29 L591.04,186.13 L591.58,183.20 L592.12,180.51 L592.66,178.08 L593.20,175.91 L593.74,174.00 L594.28,172.38 L594.82,171.04 L595.36,170.00 L595.90,169.24 L596.44,168.79 L596.98,168.63 L597.53,168.78 L598.07,169.22 L598.61,169.96 L599.15,170.99 L599.69,172.32 L600.23,173.93 L600.77,175.82 L601.31,177.98 L601.85,180.40 L602.39,183.08 L602.93,186.00 L603.47,189.15 L604.02,192.52 L604.56,196.10 L605.10,199.86 L605.64,203.81 L606.18,207.91 L606.72,212.16 L607.26,216.54 L607.80,221.03 L608.34,225.61 L608.88,230.26 L609.42,234.98 L609.96,239.73 L610.51,244.50 L611.05,249.27 L611.59,254.02 L612.13,258.73 L612.67,263.39 L613.21,267.98 L613.75,272.47 L614.29,276.85 L614.83,281.11 L615.37,285.22 L615.91,289.17 L616.45,292.94 L617.00,296.53 L617.54,299.91 L618.08,303.07 L618.62,306.00 L619.16,308.69 L619.70,311.12 L620.24,313.29 L620.78,315.20 L621.32,316.82 L621.86,318.16 L622.40,319.20 L622.95,319.96 L623.49,320.41 L624.03,320.57 L624.57,320.42 L625.11,319.98 L625.65,319.24 L626.19,318.21 L626.73,316.88 L627.27,315.27 L627.81,313.38 L628.35,311.22 L628.89,308.80 L629.44,306.12 L629.98,303.20 L630.52,300.05 L631.06,296.68 L631.60,293.10 L632.14,289.34 L632.68,285.39 L633.22,281.29 L633.76,277.04 L634.30,272.66 L634.84,268.17 L635.38,263.59 L635.92,258.94 L636.47,254.22 L637.01,249.47 L637.55,244.70 L638.09,239.93 L638.63,235.18 L639.17,230.47 L639.71,225.81 L640.25,221.22 L640.79,216.73 L641.33,212.35 L641.87,208.09 L642.41,203.98 L642.96,200.03 L643.50,196.26 L644.04,192.67 L644.58,189.29 L645.12,186.13 L645.66,183.20 L646.20,180.51 L646.74,178.08 L647.28,175.91 L647.82,174.00 L648.36,172.38 L648.90,171.04 L649.45,170.00 L649.99,169.24 L650.53,168.79 L651.07,168.63 L651.61,168.78 L652.15,169.22 L652.69,169.96 L653.23,170.99 L653.77,172.32 L654.31,173.93 L654.85,175.82 L655.40,177.98 L655.94,180.40 L656.48,183.08 L657.02,186.00 L657.56,189.15 L658.10,192.52 L658.64,196.10 L659.18,199.86 L659.72,203.81 L660.26,207.91 L660.80,212.16 L661.34,216.54 L661.88,221.03 L662.43,225.61 L662.97,230.26 L663.51,234.98 L664.05,239.73 L664.59,244.50 L665.13,249.27 L665.67,254.02 L666.21,258.73 L666.75,263.39 L667.29,267.98 L667.83,272.47 L668.38,276.85 L668.92,281.11 L669.46,285.22 L670.00,289.17 L670.54,292.94 L671.08,296.53 L671.62,299.91 L672.16,303.07 L672.70,306.00 L673.24,308.69 L673.78,311.12 L674.32,313.29 L674.86,315.20 L675.41,316.82 L675.95,318.16 L676.49,319.20 L677.03,319.96 L677.57,320.41 L678.11,320.57 L678.65,320.42 L679.19,319.98 L679.73,319.24 L680.27,318.21 L680.81,316.88 L681.36,315.27 L681.90,313.38 L682.44,311.22 L682.98,308.80 L683.52,306.12 L684.06,303.20 L684.60,300.05 L685.14,296.68 L685.68,293.10 L686.22,289.34 L686.76,285.39 L687.30,281.29 L687.84,277.04 L688.39,272.66 L688.93,268.17 L689.47,263.59 L690.01,258.94 L690.55,254.22 L691.09,249.47 L691.63,244.70 L692.17,239.93 L692.71,235.18 L693.25,230.47 L693.79,225.81 L694.34,221.22 L694.88,216.73 L695.42,212.35 L695.96,208.09 L696.50,203.98 L697.04,200.03 L697.58,196.26 L698.12,192.67 L698.66,189.29 L699.20,186.13 L699.74,183.20 L700.28,180.51 L700.82,178.08 L701.37,175.91 L701.91,174.00 L702.45,172.38 L702.99,171.04 L703.53,170.00 L704.07,169.24 L704.61,168.79 L705.15,168.63 L705.69,168.78 L706.23,169.22 L706.77,169.96 L707.31,170.99 L707.86,172.32 L708.40,173.93 L708.94,175.82 L709.48,177.98 L710.02,180.40 L710.56,183.08 L711.10,186.00 L711.64,189.15 L712.18,192.52 L712.72,196.10 L713.26,199.86 L713.80,203.81 L714.35,207.91 L714.89,212.16 L715.43,216.54 L715.97,221.03 L716.51,225.61 L717.05,230.26 L717.59,234.98 L718.13,239.73 L718.67,244.50 L719.21,249.27 L719.75,254.02 L720.29,258.73 L720.84,263.39 L721.38,267.98 L721.92,272.47 L722.46,276.85 L723.00,281.11 L723.54,285.22 L724.08,289.17 L724.62,292.94 L725.16,296.53 L725.70,299.91 L726.24,303.07 L726.78,306.00 L727.33,308.69 L727.87,311.12 L728.41,313.29 L728.95,315.20 L729.49,316.82 L730.03,318.16 L730.57,319.20 L731.11,319.96 L731.65,320.41 L732.19,320.57 L732.73,320.42 L733.27,319.98 L733.82,319.24 L734.36,318.21 L734.90,316.88 L735.44,315.27 L735.98,313.38 L736.52,311.22 L737.06,308.80 L737.60,306.12 L738.14,303.20 L738.68,300.05 L739.22,296.68 L739.76,293.10 L740.31,289.34 L740.85,285.39 L741.39,281.29 L741.93,277.04 L742.47,272.66 L743.01,268.17 L743.55,263.59 L744.09,258.94 L744.63,254.22 L745.17,249.47 L745.71,244.70 L746.25,239.93 L746.80,235.18 L747.34,230.47 L747.88,225.81 L748.42,221.22 L748.96,216.73 L749.50,212.35"/></defs>
<g clip-path="url(#c1)" fill="none" stroke-linejoin="round" stroke-linecap="round">
<use href="#pi1" stroke="#3B6FB2" stroke-width="4.7"/><use href="#pi1" stroke="#497FC0" stroke-width="2.5"/>
<use href="#po1" stroke="#B52B30" stroke-width="4.7"/><use href="#po1" stroke="#C44643" stroke-width="2.5"/>
</g>
<text x="100.50" y="280.00" text-anchor="middle" textLength="11.01" lengthAdjust="spacingAndGlyphs" class="tk" style="font-size:20.1px">0</text>
<text x="208.58" y="280.00" text-anchor="middle" textLength="38.53" lengthAdjust="spacingAndGlyphs" class="tk" style="font-size:20.1px">0.02</text>
<text x="316.67" y="280.00" text-anchor="middle" textLength="38.53" lengthAdjust="spacingAndGlyphs" class="tk" style="font-size:20.1px">0.04</text>
<text x="424.75" y="280.00" text-anchor="middle" textLength="38.53" lengthAdjust="spacingAndGlyphs" class="tk" style="font-size:20.1px">0.06</text>
<text x="532.83" y="280.00" text-anchor="middle" textLength="38.53" lengthAdjust="spacingAndGlyphs" class="tk" style="font-size:20.1px">0.08</text>
<text x="640.92" y="280.00" text-anchor="middle" textLength="27.52" lengthAdjust="spacingAndGlyphs" class="tk" style="font-size:20.1px">0.1</text>
<text x="749.00" y="280.00" text-anchor="middle" textLength="38.53" lengthAdjust="spacingAndGlyphs" class="tk" style="font-size:20.1px">0.12</text>
<text x="259.6" y="38.3" textLength="366.8" lengthAdjust="spacingAndGlyphs" class="ti" style="font-size:33px">Time response of filter</text>
<text x="352.2" y="436.2" textLength="144.5" lengthAdjust="spacingAndGlyphs" class="ax" style="font-size:18.5px">Time in seconds</text>
<text transform="translate(33,287.9) rotate(-90)" x="0" y="0" textLength="86.7" lengthAdjust="spacingAndGlyphs" class="ax" style="font-size:18.5px">Response</text>
<line x1="803.1999999999999" y1="241.5" x2="845.1" y2="241.5" stroke="#3B6FB2" stroke-width="4.8" stroke-linecap="round"/>
<line x1="803.1999999999999" y1="241.5" x2="845.1" y2="241.5" stroke="#497FC0" stroke-width="2.6" stroke-linecap="round"/>
<line x1="803.1999999999999" y1="280.8" x2="845.1" y2="280.8" stroke="#B52B30" stroke-width="4.8" stroke-linecap="round"/>
<line x1="803.1999999999999" y1="280.8" x2="845.1" y2="280.8" stroke="#C44643" stroke-width="2.6" stroke-linecap="round"/>
<text x="850.5" y="247.5" textLength="26.9" lengthAdjust="spacingAndGlyphs" class="tk" style="font-size:18.5px">Vin</text>
<text x="850.5" y="287" textLength="41.6" lengthAdjust="spacingAndGlyphs" class="tk" style="font-size:18.5px">Vout</text>
<text transform="translate(16.2,485.3) scale(1.06,1)" x="0" y="0" textLength="543.3" lengthAdjust="spacing" class="cp">Figure 5: 100 Hz input, 50 Hz cutoff selected.</text>
<clipPath id="c2"><rect x="98.1" y="629.6" width="649.0" height="375.3"/></clipPath>
<line x1="91.90" y1="630.20" x2="745.30" y2="630.20" stroke="#858585" stroke-width="1.4"/>
<line x1="91.90" y1="667.54" x2="745.30" y2="667.54" stroke="#858585" stroke-width="1.4"/>
<line x1="91.90" y1="704.88" x2="745.30" y2="704.88" stroke="#858585" stroke-width="1.4"/>
<line x1="91.90" y1="742.22" x2="745.30" y2="742.22" stroke="#858585" stroke-width="1.4"/>
<line x1="91.90" y1="779.56" x2="745.30" y2="779.56" stroke="#858585" stroke-width="1.4"/>
<line x1="91.90" y1="816.90" x2="745.30" y2="816.90" stroke="#858585" stroke-width="1.4"/>
<line x1="91.90" y1="854.24" x2="745.30" y2="854.24" stroke="#858585" stroke-width="1.4"/>
<line x1="91.90" y1="891.58" x2="745.30" y2="891.58" stroke="#858585" stroke-width="1.4"/>
<line x1="91.90" y1="928.92" x2="745.30" y2="928.92" stroke="#858585" stroke-width="1.4"/>
<line x1="91.90" y1="966.26" x2="745.30" y2="966.26" stroke="#858585" stroke-width="1.4"/>
<line x1="91.90" y1="1003.60" x2="745.30" y2="1003.60" stroke="#858585" stroke-width="1.4"/>
<line x1="98.30" y1="630.20" x2="98.30" y2="1003.60" stroke="#858585" stroke-width="1.5"/>
<line x1="206.13" y1="816.90" x2="206.13" y2="823.40" stroke="#8e8e8e" stroke-width="1.1"/>
<line x1="313.97" y1="816.90" x2="313.97" y2="823.40" stroke="#8e8e8e" stroke-width="1.1"/>
<line x1="421.80" y1="816.90" x2="421.80" y2="823.40" stroke="#8e8e8e" stroke-width="1.1"/>
<line x1="529.63" y1="816.90" x2="529.63" y2="823.40" stroke="#8e8e8e" stroke-width="1.1"/>
<line x1="637.47" y1="816.90" x2="637.47" y2="823.40" stroke="#8e8e8e" stroke-width="1.1"/>
<line x1="745.30" y1="816.90" x2="745.30" y2="823.40" stroke="#8e8e8e" stroke-width="1.1"/>
<text x="77.20" y="636.70" text-anchor="end" textLength="10.78" lengthAdjust="spacingAndGlyphs" class="tk" style="font-size:20.1px">1</text>
<text x="77.20" y="674.04" text-anchor="end" textLength="26.96" lengthAdjust="spacingAndGlyphs" class="tk" style="font-size:20.1px">0.8</text>
<text x="77.20" y="711.38" text-anchor="end" textLength="26.96" lengthAdjust="spacingAndGlyphs" class="tk" style="font-size:20.1px">0.6</text>
<text x="77.20" y="748.72" text-anchor="end" textLength="26.96" lengthAdjust="spacingAndGlyphs" class="tk" style="font-size:20.1px">0.4</text>
<text x="77.20" y="786.06" text-anchor="end" textLength="26.96" lengthAdjust="spacingAndGlyphs" class="tk" style="font-size:20.1px">0.2</text>
<text x="77.20" y="823.40" text-anchor="end" textLength="10.78" lengthAdjust="spacingAndGlyphs" class="tk" style="font-size:20.1px">0</text>
<text x="77.20" y="860.74" text-anchor="end" textLength="33.42" lengthAdjust="spacingAndGlyphs" class="tk" style="font-size:20.1px">-0.2</text>
<text x="77.20" y="898.08" text-anchor="end" textLength="33.42" lengthAdjust="spacingAndGlyphs" class="tk" style="font-size:20.1px">-0.4</text>
<text x="77.20" y="935.42" text-anchor="end" textLength="33.42" lengthAdjust="spacingAndGlyphs" class="tk" style="font-size:20.1px">-0.6</text>
<text x="77.20" y="972.76" text-anchor="end" textLength="33.42" lengthAdjust="spacingAndGlyphs" class="tk" style="font-size:20.1px">-0.8</text>
<text x="77.20" y="1010.10" text-anchor="end" textLength="17.24" lengthAdjust="spacingAndGlyphs" class="tk" style="font-size:20.1px">-1</text>
<defs><path id="pi2" d="M98.30,630.20 L98.84,630.29 L99.38,630.57 L99.92,631.03 L100.46,631.67 L101.00,632.50 L101.54,633.51 L102.08,634.70 L102.62,636.07 L103.16,637.61 L103.70,639.34 L104.24,641.24 L104.77,643.31 L105.31,645.56 L105.85,647.97 L106.39,650.55 L106.93,653.29 L107.47,656.20 L108.01,659.26 L108.55,662.48 L109.09,665.86 L109.63,669.38 L110.17,673.05 L110.71,676.85 L111.25,680.80 L111.79,684.88 L112.33,689.10 L112.87,693.43 L113.41,697.89 L113.95,702.47 L114.49,707.16 L115.03,711.96 L115.57,716.86 L116.11,721.86 L116.65,726.96 L117.19,732.14 L117.72,737.41 L118.26,742.75 L118.80,748.17 L119.34,753.66 L119.88,759.21 L120.42,764.81 L120.96,770.47 L121.50,776.17 L122.04,781.92 L122.58,787.69 L123.12,793.50 L123.66,799.33 L124.20,805.18 L124.74,811.04 L125.28,816.90 L125.82,822.76 L126.36,828.62 L126.90,834.47 L127.44,840.30 L127.98,846.11 L128.52,851.88 L129.06,857.63 L129.60,863.33 L130.14,868.99 L130.67,874.59 L131.21,880.14 L131.75,885.63 L132.29,891.05 L132.83,896.39 L133.37,901.66 L133.91,906.84 L134.45,911.94 L134.99,916.94 L135.53,921.84 L136.07,926.64 L136.61,931.33 L137.15,935.91 L137.69,940.37 L138.23,944.70 L138.77,948.92 L139.31,953.00 L139.85,956.95 L140.39,960.75 L140.93,964.42 L141.47,967.94 L142.01,971.32 L142.55,974.54 L143.09,977.60 L143.62,980.51 L144.16,983.25 L144.70,985.83 L145.24,988.24 L145.78,990.49 L146.32,992.56 L146.86,994.46 L147.40,996.19 L147.94,997.73 L148.48,999.10 L149.02,1000.29 L149.56,1001.30 L150.10,1002.13 L150.64,1002.77 L151.18,1003.23 L151.72,1003.51 L152.26,1003.60 L152.80,1003.51 L153.34,1003.23 L153.88,1002.77 L154.42,1002.13 L154.96,1001.30 L155.50,1000.29 L156.04,999.10 L156.57,997.73 L157.11,996.19 L157.65,994.46 L158.19,992.56 L158.73,990.49 L159.27,988.24 L159.81,985.83 L160.35,983.25 L160.89,980.51 L161.43,977.60 L161.97,974.54 L162.51,971.32 L163.05,967.94 L163.59,964.42 L164.13,960.75 L164.67,956.95 L165.21,953.00 L165.75,948.92 L166.29,944.70 L166.83,940.37 L167.37,935.91 L167.91,931.33 L168.45,926.64 L168.99,921.84 L169.52,916.94 L170.06,911.94 L170.60,906.84 L171.14,901.66 L171.68,896.39 L172.22,891.05 L172.76,885.63 L173.30,880.14 L173.84,874.59 L174.38,868.99 L174.92,863.33 L175.46,857.63 L176.00,851.88 L176.54,846.11 L177.08,840.30 L177.62,834.47 L178.16,828.62 L178.70,822.76 L179.24,816.90 L179.78,811.04 L180.32,805.18 L180.86,799.33 L181.40,793.50 L181.94,787.69 L182.47,781.92 L183.01,776.17 L183.55,770.47 L184.09,764.81 L184.63,759.21 L185.17,753.66 L185.71,748.17 L186.25,742.75 L186.79,737.41 L187.33,732.14 L187.87,726.96 L188.41,721.86 L188.95,716.86 L189.49,711.96 L190.03,707.16 L190.57,702.47 L191.11,697.89 L191.65,693.43 L192.19,689.10 L192.73,684.88 L193.27,680.80 L193.81,676.85 L194.35,673.05 L194.89,669.38 L195.43,665.86 L195.96,662.48 L196.50,659.26 L197.04,656.20 L197.58,653.29 L198.12,650.55 L198.66,647.97 L199.20,645.56 L199.74,643.31 L200.28,641.24 L200.82,639.34 L201.36,637.61 L201.90,636.07 L202.44,634.70 L202.98,633.51 L203.52,632.50 L204.06,631.67 L204.60,631.03 L205.14,630.57 L205.68,630.29 L206.22,630.20 L206.76,630.29 L207.30,630.57 L207.84,631.03 L208.38,631.67 L208.91,632.50 L209.45,633.51 L209.99,634.70 L210.53,636.07 L211.07,637.61 L211.61,639.34 L212.15,641.24 L212.69,643.31 L213.23,645.56 L213.77,647.97 L214.31,650.55 L214.85,653.29 L215.39,656.20 L215.93,659.26 L216.47,662.48 L217.01,665.86 L217.55,669.38 L218.09,673.05 L218.63,676.85 L219.17,680.80 L219.71,684.88 L220.25,689.10 L220.79,693.43 L221.32,697.89 L221.86,702.47 L222.40,707.16 L222.94,711.96 L223.48,716.86 L224.02,721.86 L224.56,726.96 L225.10,732.14 L225.64,737.41 L226.18,742.75 L226.72,748.17 L227.26,753.66 L227.80,759.21 L228.34,764.81 L228.88,770.47 L229.42,776.17 L229.96,781.92 L230.50,787.69 L231.04,793.50 L231.58,799.33 L232.12,805.18 L232.66,811.04 L233.20,816.90 L233.74,822.76 L234.27,828.62 L234.81,834.47 L235.35,840.30 L235.89,846.11 L236.43,851.88 L236.97,857.63 L237.51,863.33 L238.05,868.99 L238.59,874.59 L239.13,880.14 L239.67,885.63 L240.21,891.05 L240.75,896.39 L241.29,901.66 L241.83,906.84 L242.37,911.94 L242.91,916.94 L243.45,921.84 L243.99,926.64 L244.53,931.33 L245.07,935.91 L245.61,940.37 L246.15,944.70 L246.69,948.92 L247.22,953.00 L247.76,956.95 L248.30,960.75 L248.84,964.42 L249.38,967.94 L249.92,971.32 L250.46,974.54 L251.00,977.60 L251.54,980.51 L252.08,983.25 L252.62,985.83 L253.16,988.24 L253.70,990.49 L254.24,992.56 L254.78,994.46 L255.32,996.19 L255.86,997.73 L256.40,999.10 L256.94,1000.29 L257.48,1001.30 L258.02,1002.13 L258.56,1002.77 L259.10,1003.23 L259.64,1003.51 L260.18,1003.60 L260.71,1003.51 L261.25,1003.23 L261.79,1002.77 L262.33,1002.13 L262.87,1001.30 L263.41,1000.29 L263.95,999.10 L264.49,997.73 L265.03,996.19 L265.57,994.46 L266.11,992.56 L266.65,990.49 L267.19,988.24 L267.73,985.83 L268.27,983.25 L268.81,980.51 L269.35,977.60 L269.89,974.54 L270.43,971.32 L270.97,967.94 L271.51,964.42 L272.05,960.75 L272.59,956.95 L273.12,953.00 L273.66,948.92 L274.20,944.70 L274.74,940.37 L275.28,935.91 L275.82,931.33 L276.36,926.64 L276.90,921.84 L277.44,916.94 L277.98,911.94 L278.52,906.84 L279.06,901.66 L279.60,896.39 L280.14,891.05 L280.68,885.63 L281.22,880.14 L281.76,874.59 L282.30,868.99 L282.84,863.33 L283.38,857.63 L283.92,851.88 L284.46,846.11 L285.00,840.30 L285.54,834.47 L286.07,828.62 L286.61,822.76 L287.15,816.90 L287.69,811.04 L288.23,805.18 L288.77,799.33 L289.31,793.50 L289.85,787.69 L290.39,781.92 L290.93,776.17 L291.47,770.47 L292.01,764.81 L292.55,759.21 L293.09,753.66 L293.63,748.17 L294.17,742.75 L294.71,737.41 L295.25,732.14 L295.79,726.96 L296.33,721.86 L296.87,716.86 L297.41,711.96 L297.95,707.16 L298.49,702.47 L299.02,697.89 L299.56,693.43 L300.10,689.10 L300.64,684.88 L301.18,680.80 L301.72,676.85 L302.26,673.05 L302.80,669.38 L303.34,665.86 L303.88,662.48 L304.42,659.26 L304.96,656.20 L305.50,653.29 L306.04,650.55 L306.58,647.97 L307.12,645.56 L307.66,643.31 L308.20,641.24 L308.74,639.34 L309.28,637.61 L309.82,636.07 L310.36,634.70 L310.90,633.51 L311.44,632.50 L311.97,631.67 L312.51,631.03 L313.05,630.57 L313.59,630.29 L314.13,630.20 L314.67,630.29 L315.21,630.57 L315.75,631.03 L316.29,631.67 L316.83,632.50 L317.37,633.51 L317.91,634.70 L318.45,636.07 L318.99,637.61 L319.53,639.34 L320.07,641.24 L320.61,643.31 L321.15,645.56 L321.69,647.97 L322.23,650.55 L322.77,653.29 L323.31,656.20 L323.85,659.26 L324.39,662.48 L324.92,665.86 L325.46,669.38 L326.00,673.05 L326.54,676.85 L327.08,680.80 L327.62,684.88 L328.16,689.10 L328.70,693.43 L329.24,697.89 L329.78,702.47 L330.32,707.16 L330.86,711.96 L331.40,716.86 L331.94,721.86 L332.48,726.96 L333.02,732.14 L333.56,737.41 L334.10,742.75 L334.64,748.17 L335.18,753.66 L335.72,759.21 L336.26,764.81 L336.80,770.47 L337.34,776.17 L337.87,781.92 L338.41,787.69 L338.95,793.50 L339.49,799.33 L340.03,805.18 L340.57,811.04 L341.11,816.90 L341.65,822.76 L342.19,828.62 L342.73,834.47 L343.27,840.30 L343.81,846.11 L344.35,851.88 L344.89,857.63 L345.43,863.33 L345.97,868.99 L346.51,874.59 L347.05,880.14 L347.59,885.63 L348.13,891.05 L348.67,896.39 L349.21,901.66 L349.75,906.84 L350.29,911.94 L350.82,916.94 L351.36,921.84 L351.90,926.64 L352.44,931.33 L352.98,935.91 L353.52,940.37 L354.06,944.70 L354.60,948.92 L355.14,953.00 L355.68,956.95 L356.22,960.75 L356.76,964.42 L357.30,967.94 L357.84,971.32 L358.38,974.54 L358.92,977.60 L359.46,980.51 L360.00,983.25 L360.54,985.83 L361.08,988.24 L361.62,990.49 L362.16,992.56 L362.70,994.46 L363.24,996.19 L363.77,997.73 L364.31,999.10 L364.85,1000.29 L365.39,1001.30 L365.93,1002.13 L366.47,1002.77 L367.01,1003.23 L367.55,1003.51 L368.09,1003.60 L368.63,1003.51 L369.17,1003.23 L369.71,1002.77 L370.25,1002.13 L370.79,1001.30 L371.33,1000.29 L371.87,999.10 L372.41,997.73 L372.95,996.19 L373.49,994.46 L374.03,992.56 L374.57,990.49 L375.11,988.24 L375.65,985.83 L376.19,983.25 L376.72,980.51 L377.26,977.60 L377.80,974.54 L378.34,971.32 L378.88,967.94 L379.42,964.42 L379.96,960.75 L380.50,956.95 L381.04,953.00 L381.58,948.92 L382.12,944.70 L382.66,940.37 L383.20,935.91 L383.74,931.33 L384.28,926.64 L384.82,921.84 L385.36,916.94 L385.90,911.94 L386.44,906.84 L386.98,901.66 L387.52,896.39 L388.06,891.05 L388.60,885.63 L389.14,880.14 L389.68,874.59 L390.21,868.99 L390.75,863.33 L391.29,857.63 L391.83,851.88 L392.37,846.11 L392.91,840.30 L393.45,834.47 L393.99,828.62 L394.53,822.76 L395.07,816.90 L395.61,811.04 L396.15,805.18 L396.69,799.33 L397.23,793.50 L397.77,787.69 L398.31,781.92 L398.85,776.17 L399.39,770.47 L399.93,764.81 L400.47,759.21 L401.01,753.66 L401.55,748.17 L402.09,742.75 L402.62,737.41 L403.16,732.14 L403.70,726.96 L404.24,721.86 L404.78,716.86 L405.32,711.96 L405.86,707.16 L406.40,702.47 L406.94,697.89 L407.48,693.43 L408.02,689.10 L408.56,684.88 L409.10,680.80 L409.64,676.85 L410.18,673.05 L410.72,669.38 L411.26,665.86 L411.80,662.48 L412.34,659.26 L412.88,656.20 L413.42,653.29 L413.96,650.55 L414.50,647.97 L415.04,645.56 L415.58,643.31 L416.11,641.24 L416.65,639.34 L417.19,637.61 L417.73,636.07 L418.27,634.70 L418.81,633.51 L419.35,632.50 L419.89,631.67 L420.43,631.03 L420.97,630.57 L421.51,630.29 L422.05,630.20 L422.59,630.29 L423.13,630.57 L423.67,631.03 L424.21,631.67 L424.75,632.50 L425.29,633.51 L425.83,634.70 L426.37,636.07 L426.91,637.61 L427.45,639.34 L427.99,641.24 L428.52,643.31 L429.06,645.56 L429.60,647.97 L430.14,650.55 L430.68,653.29 L431.22,656.20 L431.76,659.26 L432.30,662.48 L432.84,665.86 L433.38,669.38 L433.92,673.05 L434.46,676.85 L435.00,680.80 L435.54,684.88 L436.08,689.10 L436.62,693.43 L437.16,697.89 L437.70,702.47 L438.24,707.16 L438.78,711.96 L439.32,716.86 L439.86,721.86 L440.40,726.96 L440.94,732.14 L441.47,737.41 L442.01,742.75 L442.55,748.17 L443.09,753.66 L443.63,759.21 L444.17,764.81 L444.71,770.47 L445.25,776.17 L445.79,781.92 L446.33,787.69 L446.87,793.50 L447.41,799.33 L447.95,805.18 L448.49,811.04 L449.03,816.90 L449.57,822.76 L450.11,828.62 L450.65,834.47 L451.19,840.30 L451.73,846.11 L452.27,851.88 L452.81,857.63 L453.35,863.33 L453.89,868.99 L454.42,874.59 L454.96,880.14 L455.50,885.63 L456.04,891.05 L456.58,896.39 L457.12,901.66 L457.66,906.84 L458.20,911.94 L458.74,916.94 L459.28,921.84 L459.82,926.64 L460.36,931.33 L460.90,935.91 L461.44,940.37 L461.98,944.70 L462.52,948.92 L463.06,953.00 L463.60,956.95 L464.14,960.75 L464.68,964.42 L465.22,967.94 L465.76,971.32 L466.30,974.54 L466.84,977.60 L467.38,980.51 L467.91,983.25 L468.45,985.83 L468.99,988.24 L469.53,990.49 L470.07,992.56 L470.61,994.46 L471.15,996.19 L471.69,997.73 L472.23,999.10 L472.77,1000.29 L473.31,1001.30 L473.85,1002.13 L474.39,1002.77 L474.93,1003.23 L475.47,1003.51 L476.01,1003.60 L476.55,1003.51 L477.09,1003.23 L477.63,1002.77 L478.17,1002.13 L478.71,1001.30 L479.25,1000.29 L479.79,999.10 L480.32,997.73 L480.86,996.19 L481.40,994.46 L481.94,992.56 L482.48,990.49 L483.02,988.24 L483.56,985.83 L484.10,983.25 L484.64,980.51 L485.18,977.60 L485.72,974.54 L486.26,971.32 L486.80,967.94 L487.34,964.42 L487.88,960.75 L488.42,956.95 L488.96,953.00 L489.50,948.92 L490.04,944.70 L490.58,940.37 L491.12,935.91 L491.66,931.33 L492.20,926.64 L492.74,921.84 L493.27,916.94 L493.81,911.94 L494.35,906.84 L494.89,901.66 L495.43,896.39 L495.97,891.05 L496.51,885.63 L497.05,880.14 L497.59,874.59 L498.13,868.99 L498.67,863.33 L499.21,857.63 L499.75,851.88 L500.29,846.11 L500.83,840.30 L501.37,834.47 L501.91,828.62 L502.45,822.76 L502.99,816.90 L503.53,811.04 L504.07,805.18 L504.61,799.33 L505.15,793.50 L505.69,787.69 L506.22,781.92 L506.76,776.17 L507.30,770.47 L507.84,764.81 L508.38,759.21 L508.92,753.66 L509.46,748.17 L510.00,742.75 L510.54,737.41 L511.08,732.14 L511.62,726.96 L512.16,721.86 L512.70,716.86 L513.24,711.96 L513.78,707.16 L514.32,702.47 L514.86,697.89 L515.40,693.43 L515.94,689.10 L516.48,684.88 L517.02,680.80 L517.56,676.85 L518.10,673.05 L518.64,669.38 L519.18,665.86 L519.71,662.48 L520.25,659.26 L520.79,656.20 L521.33,653.29 L521.87,650.55 L522.41,647.97 L522.95,645.56 L523.49,643.31 L524.03,641.24 L524.57,639.34 L525.11,637.61 L525.65,636.07 L526.19,634.70 L526.73,633.51 L527.27,632.50 L527.81,631.67 L528.35,631.03 L528.89,630.57 L529.43,630.29 L529.97,630.20 L530.51,630.29 L531.05,630.57 L531.59,631.03 L532.12,631.67 L532.66,632.50 L533.20,633.51 L533.74,634.70 L534.28,636.07 L534.82,637.61 L535.36,639.34 L535.90,641.24 L536.44,643.31 L536.98,645.56 L537.52,647.97 L538.06,650.55 L538.60,653.29 L539.14,656.20 L539.68,659.26 L540.22,662.48 L540.76,665.86 L541.30,669.38 L541.84,673.05 L542.38,676.85 L542.92,680.80 L543.46,684.88 L544.00,689.10 L544.54,693.43 L545.08,697.89 L545.61,702.47 L546.15,707.16 L546.69,711.96 L547.23,716.86 L547.77,721.86 L548.31,726.96 L548.85,732.14 L549.39,737.41 L549.93,742.75 L550.47,748.17 L551.01,753.66 L551.55,759.21 L552.09,764.81 L552.63,770.47 L553.17,776.17 L553.71,781.92 L554.25,787.69 L554.79,793.50 L555.33,799.33 L555.87,805.18 L556.41,811.04 L556.95,816.90 L557.49,822.76 L558.02,828.62 L558.56,834.47 L559.10,840.30 L559.64,846.11 L560.18,851.88 L560.72,857.63 L561.26,863.33 L561.80,868.99 L562.34,874.59 L562.88,880.14 L563.42,885.63 L563.96,891.05 L564.50,896.39 L565.04,901.66 L565.58,906.84 L566.12,911.94 L566.66,916.94 L567.20,921.84 L567.74,926.64 L568.28,931.33 L568.82,935.91 L569.36,940.37 L569.90,944.70 L570.44,948.92 L570.98,953.00 L571.51,956.95 L572.05,960.75 L572.59,964.42 L573.13,967.94 L573.67,971.32 L574.21,974.54 L574.75,977.60 L575.29,980.51 L575.83,983.25 L576.37,985.83 L576.91,988.24 L577.45,990.49 L577.99,992.56 L578.53,994.46 L579.07,996.19 L579.61,997.73 L580.15,999.10 L580.69,1000.29 L581.23,1001.30 L581.77,1002.13 L582.31,1002.77 L582.85,1003.23 L583.39,1003.51 L583.92,1003.60 L584.46,1003.51 L585.00,1003.23 L585.54,1002.77 L586.08,1002.13 L586.62,1001.30 L587.16,1000.29 L587.70,999.10 L588.24,997.73 L588.78,996.19 L589.32,994.46 L589.86,992.56 L590.40,990.49 L590.94,988.24 L591.48,985.83 L592.02,983.25 L592.56,980.51 L593.10,977.60 L593.64,974.54 L594.18,971.32 L594.72,967.94 L595.26,964.42 L595.80,960.75 L596.34,956.95 L596.88,953.00 L597.41,948.92 L597.95,944.70 L598.49,940.37 L599.03,935.91 L599.57,931.33 L600.11,926.64 L600.65,921.84 L601.19,916.94 L601.73,911.94 L602.27,906.84 L602.81,901.66 L603.35,896.39 L603.89,891.05 L604.43,885.63 L604.97,880.14 L605.51,874.59 L606.05,868.99 L606.59,863.33 L607.13,857.63 L607.67,851.88 L608.21,846.11 L608.75,840.30 L609.29,834.47 L609.82,828.62 L610.36,822.76 L610.90,816.90 L611.44,811.04 L611.98,805.18 L612.52,799.33 L613.06,793.50 L613.60,787.69 L614.14,781.92 L614.68,776.17 L615.22,770.47 L615.76,764.81 L616.30,759.21 L616.84,753.66 L617.38,748.17 L617.92,742.75 L618.46,737.41 L619.00,732.14 L619.54,726.96 L620.08,721.86 L620.62,716.86 L621.16,711.96 L621.70,707.16 L622.24,702.47 L622.77,697.89 L623.31,693.43 L623.85,689.10 L624.39,684.88 L624.93,680.80 L625.47,676.85 L626.01,673.05 L626.55,669.38 L627.09,665.86 L627.63,662.48 L628.17,659.26 L628.71,656.20 L629.25,653.29 L629.79,650.55 L630.33,647.97 L630.87,645.56 L631.41,643.31 L631.95,641.24 L632.49,639.34 L633.03,637.61 L633.57,636.07 L634.11,634.70 L634.65,633.51 L635.19,632.50 L635.73,631.67 L636.26,631.03 L636.80,630.57 L637.34,630.29 L637.88,630.20 L638.42,630.29 L638.96,630.57 L639.50,631.03 L640.04,631.67 L640.58,632.50 L641.12,633.51 L641.66,634.70 L642.20,636.07 L642.74,637.61 L643.28,639.34 L643.82,641.24 L644.36,643.31 L644.90,645.56 L645.44,647.97 L645.98,650.55 L646.52,653.29 L647.06,656.20 L647.60,659.26 L648.14,662.48 L648.67,665.86 L649.21,669.38 L649.75,673.05 L650.29,676.85 L650.83,680.80 L651.37,684.88 L651.91,689.10 L652.45,693.43 L652.99,697.89 L653.53,702.47 L654.07,707.16 L654.61,711.96 L655.15,716.86 L655.69,721.86 L656.23,726.96 L656.77,732.14 L657.31,737.41 L657.85,742.75 L658.39,748.17 L658.93,753.66 L659.47,759.21 L660.01,764.81 L660.55,770.47 L661.09,776.17 L661.62,781.92 L662.16,787.69 L662.70,793.50 L663.24,799.33 L663.78,805.18 L664.32,811.04 L664.86,816.90 L665.40,822.76 L665.94,828.62 L666.48,834.47 L667.02,840.30 L667.56,846.11 L668.10,851.88 L668.64,857.63 L669.18,863.33 L669.72,868.99 L670.26,874.59 L670.80,880.14 L671.34,885.63 L671.88,891.05 L672.42,896.39 L672.96,901.66 L673.50,906.84 L674.04,911.94 L674.57,916.94 L675.11,921.84 L675.65,926.64 L676.19,931.33 L676.73,935.91 L677.27,940.37 L677.81,944.70 L678.35,948.92 L678.89,953.00 L679.43,956.95 L679.97,960.75 L680.51,964.42 L681.05,967.94 L681.59,971.32 L682.13,974.54 L682.67,977.60 L683.21,980.51 L683.75,983.25 L684.29,985.83 L684.83,988.24 L685.37,990.49 L685.91,992.56 L686.45,994.46 L686.99,996.19 L687.52,997.73 L688.06,999.10 L688.60,1000.29 L689.14,1001.30 L689.68,1002.13 L690.22,1002.77 L690.76,1003.23 L691.30,1003.51 L691.84,1003.60 L692.38,1003.51 L692.92,1003.23 L693.46,1002.77 L694.00,1002.13 L694.54,1001.30 L695.08,1000.29 L695.62,999.10 L696.16,997.73 L696.70,996.19 L697.24,994.46 L697.78,992.56 L698.32,990.49 L698.86,988.24 L699.40,985.83 L699.94,983.25 L700.47,980.51 L701.01,977.60 L701.55,974.54 L702.09,971.32 L702.63,967.94 L703.17,964.42 L703.71,960.75 L704.25,956.95 L704.79,953.00 L705.33,948.92 L705.87,944.70 L706.41,940.37 L706.95,935.91 L707.49,931.33 L708.03,926.64 L708.57,921.84 L709.11,916.94 L709.65,911.94 L710.19,906.84 L710.73,901.66 L711.27,896.39 L711.81,891.05 L712.35,885.63 L712.89,880.14 L713.42,874.59 L713.96,868.99 L714.50,863.33 L715.04,857.63 L715.58,851.88 L716.12,846.11 L716.66,840.30 L717.20,834.47 L717.74,828.62 L718.28,822.76 L718.82,816.90 L719.36,811.04 L719.90,805.18 L720.44,799.33 L720.98,793.50 L721.52,787.69 L722.06,781.92 L722.60,776.17 L723.14,770.47 L723.68,764.81 L724.22,759.21 L724.76,753.66 L725.30,748.17 L725.84,742.75 L726.38,737.41 L726.91,732.14 L727.45,726.96 L727.99,721.86 L728.53,716.86 L729.07,711.96 L729.61,707.16 L730.15,702.47 L730.69,697.89 L731.23,693.43 L731.77,689.10 L732.31,684.88 L732.85,680.80 L733.39,676.85 L733.93,673.05 L734.47,669.38 L735.01,665.86 L735.55,662.48 L736.09,659.26 L736.63,656.20 L737.17,653.29 L737.71,650.55 L738.25,647.97 L738.79,645.56 L739.32,643.31 L739.86,641.24 L740.40,639.34 L740.94,637.61 L741.48,636.07 L742.02,634.70 L742.56,633.51 L743.10,632.50 L743.64,631.67 L744.18,631.03 L744.72,630.57 L745.26,630.29 L745.80,630.20"/><path id="po2" d="M98.30,816.90 L98.84,811.03 L99.38,805.36 L99.92,799.87 L100.46,794.56 L101.00,789.44 L101.54,784.51 L102.08,779.77 L102.62,775.21 L103.16,770.84 L103.70,766.65 L104.24,762.66 L104.77,758.84 L105.31,755.21 L105.85,751.77 L106.39,748.51 L106.93,745.43 L107.47,742.53 L108.01,739.82 L108.55,737.29 L109.09,734.94 L109.63,732.77 L110.17,730.78 L110.71,728.96 L111.25,727.33 L111.79,725.87 L112.33,724.58 L112.87,723.46 L113.41,722.52 L113.95,721.75 L114.49,721.14 L115.03,720.70 L115.57,720.43 L116.11,720.32 L116.65,720.36 L117.19,720.57 L117.72,720.93 L118.26,721.45 L118.80,722.12 L119.34,722.94 L119.88,723.90 L120.42,725.01 L120.96,726.26 L121.50,727.65 L122.04,729.18 L122.58,730.83 L123.12,732.62 L123.66,734.53 L124.20,736.57 L124.74,738.72 L125.28,741.00 L125.82,743.38 L126.36,745.87 L126.90,748.47 L127.44,751.18 L127.98,753.98 L128.52,756.87 L129.06,759.85 L129.60,762.93 L130.14,766.08 L130.67,769.31 L131.21,772.62 L131.75,776.00 L132.29,779.44 L132.83,782.95 L133.37,786.51 L133.91,790.13 L134.45,793.80 L134.99,797.51 L135.53,801.26 L136.07,805.05 L136.61,808.87 L137.15,812.72 L137.69,816.59 L138.23,820.47 L138.77,824.38 L139.31,828.29 L139.85,832.21 L140.39,836.13 L140.93,840.04 L141.47,843.95 L142.01,847.84 L142.55,851.72 L143.09,855.58 L143.62,859.42 L144.16,863.22 L144.70,866.99 L145.24,870.72 L145.78,874.42 L146.32,878.06 L146.86,881.66 L147.40,885.20 L147.94,888.69 L148.48,892.12 L149.02,895.48 L149.56,898.77 L150.10,901.99 L150.64,905.14 L151.18,908.20 L151.72,911.19 L152.26,914.09 L152.80,916.90 L153.34,919.62 L153.88,922.25 L154.42,924.78 L154.96,927.21 L155.50,929.54 L156.04,931.76 L156.57,933.88 L157.11,935.88 L157.65,937.78 L158.19,939.56 L158.73,941.22 L159.27,942.77 L159.81,944.20 L160.35,945.51 L160.89,946.69 L161.43,947.75 L161.97,948.69 L162.51,949.50 L163.05,950.19 L163.59,950.75 L164.13,951.18 L164.67,951.48 L165.21,951.65 L165.75,951.69 L166.29,951.60 L166.83,951.39 L167.37,951.04 L167.91,950.57 L168.45,949.96 L168.99,949.23 L169.52,948.37 L170.06,947.38 L170.60,946.27 L171.14,945.03 L171.68,943.67 L172.22,942.18 L172.76,940.58 L173.30,938.85 L173.84,937.00 L174.38,935.04 L174.92,932.97 L175.46,930.78 L176.00,928.48 L176.54,926.08 L177.08,923.56 L177.62,920.95 L178.16,918.23 L178.70,915.42 L179.24,912.51 L179.78,909.50 L180.32,906.41 L180.86,903.23 L181.40,899.96 L181.94,896.62 L182.47,893.20 L183.01,889.70 L183.55,886.13 L184.09,882.50 L184.63,878.80 L185.17,875.05 L185.71,871.23 L186.25,867.37 L186.79,863.45 L187.33,859.49 L187.87,855.49 L188.41,851.45 L188.95,847.38 L189.49,843.28 L190.03,839.16 L190.57,835.01 L191.11,830.85 L191.65,826.67 L192.19,822.48 L192.73,818.29 L193.27,814.10 L193.81,809.91 L194.35,805.73 L194.89,801.56 L195.43,797.41 L195.96,793.28 L196.50,789.17 L197.04,785.09 L197.58,781.04 L198.12,777.03 L198.66,773.05 L199.20,769.12 L199.74,765.24 L200.28,761.41 L200.82,757.64 L201.36,753.92 L201.90,750.27 L202.44,746.68 L202.98,743.16 L203.52,739.71 L204.06,736.35 L204.60,733.06 L205.14,729.85 L205.68,726.73 L206.22,723.70 L206.76,720.77 L207.30,717.92 L207.84,715.18 L208.38,712.54 L208.91,710.00 L209.45,707.56 L209.99,705.23 L210.53,703.02 L211.07,700.91 L211.61,698.93 L212.15,697.05 L212.69,695.30 L213.23,693.67 L213.77,692.16 L214.31,690.77 L214.85,689.50 L215.39,688.37 L215.93,687.36 L216.47,686.47 L217.01,685.72 L217.55,685.10 L218.09,684.60 L218.63,684.24 L219.17,684.01 L219.71,683.91 L220.25,683.94 L220.79,684.10 L221.32,684.39 L221.86,684.82 L222.40,685.37 L222.94,686.06 L223.48,686.87 L224.02,687.81 L224.56,688.88 L225.10,690.08 L225.64,691.40 L226.18,692.84 L226.72,694.41 L227.26,696.10 L227.80,697.91 L228.34,699.83 L228.88,701.88 L229.42,704.03 L229.96,706.30 L230.50,708.67 L231.04,711.16 L231.58,713.74 L232.12,716.43 L232.66,719.22 L233.20,722.10 L233.74,725.08 L234.27,728.15 L234.81,731.31 L235.35,734.55 L235.89,737.87 L236.43,741.27 L236.97,744.75 L237.51,748.29 L238.05,751.91 L238.59,755.58 L239.13,759.32 L239.67,763.12 L240.21,766.97 L240.75,770.87 L241.29,774.81 L241.83,778.79 L242.37,782.82 L242.91,786.87 L243.45,790.96 L243.99,795.07 L244.53,799.20 L245.07,803.36 L245.61,807.52 L246.15,811.69 L246.69,815.87 L247.22,820.05 L247.76,824.23 L248.30,828.40 L248.84,832.56 L249.38,836.70 L249.92,840.82 L250.46,844.92 L251.00,848.99 L251.54,853.03 L252.08,857.04 L252.62,861.00 L253.16,864.93 L253.70,868.80 L254.24,872.62 L254.78,876.39 L255.32,880.10 L255.86,883.75 L256.40,887.33 L256.94,890.84 L257.48,894.28 L258.02,897.64 L258.56,900.92 L259.10,904.12 L259.64,907.24 L260.18,910.26 L260.71,913.19 L261.25,916.03 L261.79,918.77 L262.33,921.41 L262.87,923.94 L263.41,926.37 L263.95,928.70 L264.49,930.91 L265.03,933.01 L265.57,934.99 L266.11,936.86 L266.65,938.61 L267.19,940.24 L267.73,941.75 L268.27,943.13 L268.81,944.39 L269.35,945.53 L269.89,946.54 L270.43,947.42 L270.97,948.17 L271.51,948.79 L272.05,949.28 L272.59,949.64 L273.12,949.87 L273.66,949.97 L274.20,949.93 L274.74,949.77 L275.28,949.47 L275.82,949.05 L276.36,948.49 L276.90,947.81 L277.44,946.99 L277.98,946.05 L278.52,944.97 L279.06,943.78 L279.60,942.45 L280.14,941.01 L280.68,939.44 L281.22,937.75 L281.76,935.94 L282.30,934.01 L282.84,931.97 L283.38,929.81 L283.92,927.54 L284.46,925.17 L285.00,922.68 L285.54,920.09 L286.07,917.40 L286.61,914.61 L287.15,911.73 L287.69,908.75 L288.23,905.68 L288.77,902.52 L289.31,899.28 L289.85,895.96 L290.39,892.56 L290.93,889.08 L291.47,885.53 L292.01,881.92 L292.55,878.24 L293.09,874.50 L293.63,870.70 L294.17,866.85 L294.71,862.96 L295.25,859.01 L295.79,855.03 L296.33,851.00 L296.87,846.95 L297.41,842.86 L297.95,838.75 L298.49,834.61 L299.02,830.46 L299.56,826.30 L300.10,822.12 L300.64,817.94 L301.18,813.76 L301.72,809.59 L302.26,805.42 L302.80,801.26 L303.34,797.11 L303.88,792.99 L304.42,788.89 L304.96,784.82 L305.50,780.78 L306.04,776.77 L306.58,772.81 L307.12,768.89 L307.66,765.01 L308.20,761.19 L308.74,757.42 L309.28,753.71 L309.82,750.06 L310.36,746.48 L310.90,742.97 L311.44,739.53 L311.97,736.17 L312.51,732.88 L313.05,729.68 L313.59,726.57 L314.13,723.55 L314.67,720.61 L315.21,717.78 L315.75,715.04 L316.29,712.40 L316.83,709.86 L317.37,707.43 L317.91,705.11 L318.45,702.90 L318.99,700.80 L319.53,698.81 L320.07,696.94 L320.61,695.19 L321.15,693.56 L321.69,692.06 L322.23,690.67 L322.77,689.41 L323.31,688.28 L323.85,687.27 L324.39,686.39 L324.92,685.64 L325.46,685.02 L326.00,684.52 L326.54,684.16 L327.08,683.93 L327.62,683.84 L328.16,683.87 L328.70,684.03 L329.24,684.33 L329.78,684.75 L330.32,685.31 L330.86,686.00 L331.40,686.81 L331.94,687.76 L332.48,688.83 L333.02,690.03 L333.56,691.35 L334.10,692.80 L334.64,694.37 L335.18,696.06 L335.72,697.87 L336.26,699.79 L336.80,701.84 L337.34,703.99 L337.87,706.26 L338.41,708.64 L338.95,711.12 L339.49,713.71 L340.03,716.40 L340.57,719.19 L341.11,722.07 L341.65,725.05 L342.19,728.12 L342.73,731.28 L343.27,734.52 L343.81,737.84 L344.35,741.24 L344.89,744.72 L345.43,748.27 L345.97,751.88 L346.51,755.56 L347.05,759.30 L347.59,763.10 L348.13,766.95 L348.67,770.85 L349.21,774.79 L349.75,778.78 L350.29,782.80 L350.82,786.86 L351.36,790.94 L351.90,795.05 L352.44,799.19 L352.98,803.34 L353.52,807.50 L354.06,811.68 L354.60,815.86 L355.14,820.04 L355.68,824.21 L356.22,828.38 L356.76,832.54 L357.30,836.69 L357.84,840.81 L358.38,844.91 L358.92,848.98 L359.46,853.02 L360.00,857.03 L360.54,860.99 L361.08,864.92 L361.62,868.79 L362.16,872.61 L362.70,876.38 L363.24,880.09 L363.77,883.74 L364.31,887.32 L364.85,890.83 L365.39,894.27 L365.93,897.63 L366.47,900.92 L367.01,904.12 L367.55,907.23 L368.09,910.25 L368.63,913.19 L369.17,916.02 L369.71,918.76 L370.25,921.40 L370.79,923.94 L371.33,926.37 L371.87,928.69 L372.41,930.90 L372.95,933.00 L373.49,934.99 L374.03,936.86 L374.57,938.61 L375.11,940.24 L375.65,941.74 L376.19,943.13 L376.72,944.39 L377.26,945.52 L377.80,946.53 L378.34,947.41 L378.88,948.16 L379.42,948.78 L379.96,949.28 L380.50,949.64 L381.04,949.87 L381.58,949.96 L382.12,949.93 L382.66,949.77 L383.20,949.47 L383.74,949.05 L384.28,948.49 L384.82,947.80 L385.36,946.99 L385.90,946.04 L386.44,944.97 L386.98,943.77 L387.52,942.45 L388.06,941.00 L388.60,939.43 L389.14,937.74 L389.68,935.93 L390.21,934.01 L390.75,931.96 L391.29,929.81 L391.83,927.54 L392.37,925.16 L392.91,922.68 L393.45,920.09 L393.99,917.40 L394.53,914.61 L395.07,911.73 L395.61,908.75 L396.15,905.68 L396.69,902.52 L397.23,899.28 L397.77,895.96 L398.31,892.56 L398.85,889.08 L399.39,885.53 L399.93,881.92 L400.47,878.24 L401.01,874.50 L401.55,870.70 L402.09,866.85 L402.62,862.95 L403.16,859.01 L403.70,855.02 L404.24,851.00 L404.78,846.94 L405.32,842.86 L405.86,838.75 L406.40,834.61 L406.94,830.46 L407.48,826.30 L408.02,822.12 L408.56,817.94 L409.10,813.76 L409.64,809.59 L410.18,805.42 L410.72,801.26 L411.26,797.11 L411.80,792.99 L412.34,788.89 L412.88,784.82 L413.42,780.78 L413.96,776.77 L414.50,772.81 L415.04,768.88 L415.58,765.01 L416.11,761.19 L416.65,757.42 L417.19,753.71 L417.73,750.06 L418.27,746.48 L418.81,742.97 L419.35,739.53 L419.89,736.17 L420.43,732.88 L420.97,729.68 L421.51,726.57 L422.05,723.55 L422.59,720.61 L423.13,717.78 L423.67,715.04 L424.21,712.40 L424.75,709.86 L425.29,707.43 L425.83,705.11 L426.37,702.90 L426.91,700.80 L427.45,698.81 L427.99,696.94 L428.52,695.19 L429.06,693.56 L429.60,692.06 L430.14,690.67 L430.68,689.41 L431.22,688.28 L431.76,687.27 L432.30,686.39 L432.84,685.64 L433.38,685.02 L433.92,684.52 L434.46,684.16 L435.00,683.93 L435.54,683.84 L436.08,683.87 L436.62,684.03 L437.16,684.33 L437.70,684.75 L438.24,685.31 L438.78,686.00 L439.32,686.81 L439.86,687.76 L440.40,688.83 L440.94,690.03 L441.47,691.35 L442.01,692.80 L442.55,694.37 L443.09,696.06 L443.63,697.87 L444.17,699.79 L444.71,701.84 L445.25,703.99 L445.79,706.26 L446.33,708.64 L446.87,711.12 L447.41,713.71 L447.95,716.40 L448.49,719.19 L449.03,722.07 L449.57,725.05 L450.11,728.12 L450.65,731.28 L451.19,734.52 L451.73,737.84 L452.27,741.24 L452.81,744.72 L453.35,748.27 L453.89,751.88 L454.42,755.56 L454.96,759.30 L455.50,763.10 L456.04,766.95 L456.58,770.85 L457.12,774.79 L457.66,778.78 L458.20,782.80 L458.74,786.86 L459.28,790.94 L459.82,795.05 L460.36,799.19 L460.90,803.34 L461.44,807.50 L461.98,811.68 L462.52,815.86 L463.06,820.04 L463.60,824.21 L464.14,828.38 L464.68,832.54 L465.22,836.69 L465.76,840.81 L466.30,844.91 L466.84,848.98 L467.38,853.02 L467.91,857.03 L468.45,860.99 L468.99,864.92 L469.53,868.79 L470.07,872.61 L470.61,876.38 L471.15,880.09 L471.69,883.74 L472.23,887.32 L472.77,890.83 L473.31,894.27 L473.85,897.63 L474.39,900.92 L474.93,904.12 L475.47,907.23 L476.01,910.25 L476.55,913.19 L477.09,916.02 L477.63,918.76 L478.17,921.40 L478.71,923.94 L479.25,926.37 L479.79,928.69 L480.32,930.90 L480.86,933.00 L481.40,934.99 L481.94,936.86 L482.48,938.61 L483.02,940.24 L483.56,941.74 L484.10,943.13 L484.64,944.39 L485.18,945.52 L485.72,946.53 L486.26,947.41 L486.80,948.16 L487.34,948.78 L487.88,949.28 L488.42,949.64 L488.96,949.87 L489.50,949.96 L490.04,949.93 L490.58,949.77 L491.12,949.47 L491.66,949.05 L492.20,948.49 L492.74,947.80 L493.27,946.99 L493.81,946.04 L494.35,944.97 L494.89,943.77 L495.43,942.45 L495.97,941.00 L496.51,939.43 L497.05,937.74 L497.59,935.93 L498.13,934.01 L498.67,931.96 L499.21,929.81 L499.75,927.54 L500.29,925.16 L500.83,922.68 L501.37,920.09 L501.91,917.40 L502.45,914.61 L502.99,911.73 L503.53,908.75 L504.07,905.68 L504.61,902.52 L505.15,899.28 L505.69,895.96 L506.22,892.56 L506.76,889.08 L507.30,885.53 L507.84,881.92 L508.38,878.24 L508.92,874.50 L509.46,870.70 L510.00,866.85 L510.54,862.95 L511.08,859.01 L511.62,855.02 L512.16,851.00 L512.70,846.94 L513.24,842.86 L513.78,838.75 L514.32,834.61 L514.86,830.46 L515.40,826.30 L515.94,822.12 L516.48,817.94 L517.02,813.76 L517.56,809.59 L518.10,805.42 L518.64,801.26 L519.18,797.11 L519.71,792.99 L520.25,788.89 L520.79,784.82 L521.33,780.78 L521.87,776.77 L522.41,772.81 L522.95,768.88 L523.49,765.01 L524.03,761.19 L524.57,757.42 L525.11,753.71 L525.65,750.06 L526.19,746.48 L526.73,742.97 L527.27,739.53 L527.81,736.17 L528.35,732.88 L528.89,729.68 L529.43,726.57 L529.97,723.55 L530.51,720.61 L531.05,717.78 L531.59,715.04 L532.12,712.40 L532.66,709.86 L533.20,707.43 L533.74,705.11 L534.28,702.90 L534.82,700.80 L535.36,698.81 L535.90,696.94 L536.44,695.19 L536.98,693.56 L537.52,692.06 L538.06,690.67 L538.60,689.41 L539.14,688.28 L539.68,687.27 L540.22,686.39 L540.76,685.64 L541.30,685.02 L541.84,684.52 L542.38,684.16 L542.92,683.93 L543.46,683.84 L544.00,683.87 L544.54,684.03 L545.08,684.33 L545.61,684.75 L546.15,685.31 L546.69,686.00 L547.23,686.81 L547.77,687.76 L548.31,688.83 L548.85,690.03 L549.39,691.35 L549.93,692.80 L550.47,694.37 L551.01,696.06 L551.55,697.87 L552.09,699.79 L552.63,701.84 L553.17,703.99 L553.71,706.26 L554.25,708.64 L554.79,711.12 L555.33,713.71 L555.87,716.40 L556.41,719.19 L556.95,722.07 L557.49,725.05 L558.02,728.12 L558.56,731.28 L559.10,734.52 L559.64,737.84 L560.18,741.24 L560.72,744.72 L561.26,748.27 L561.80,751.88 L562.34,755.56 L562.88,759.30 L563.42,763.10 L563.96,766.95 L564.50,770.85 L565.04,774.79 L565.58,778.78 L566.12,782.80 L566.66,786.86 L567.20,790.94 L567.74,795.05 L568.28,799.19 L568.82,803.34 L569.36,807.50 L569.90,811.68 L570.44,815.86 L570.98,820.04 L571.51,824.21 L572.05,828.38 L572.59,832.54 L573.13,836.69 L573.67,840.81 L574.21,844.91 L574.75,848.98 L575.29,853.02 L575.83,857.03 L576.37,860.99 L576.91,864.92 L577.45,868.79 L577.99,872.61 L578.53,876.38 L579.07,880.09 L579.61,883.74 L580.15,887.32 L580.69,890.83 L581.23,894.27 L581.77,897.63 L582.31,900.92 L582.85,904.12 L583.39,907.23 L583.92,910.25 L584.46,913.19 L585.00,916.02 L585.54,918.76 L586.08,921.40 L586.62,923.94 L587.16,926.37 L587.70,928.69 L588.24,930.90 L588.78,933.00 L589.32,934.99 L589.86,936.86 L590.40,938.61 L590.94,940.24 L591.48,941.74 L592.02,943.13 L592.56,944.39 L593.10,945.52 L593.64,946.53 L594.18,947.41 L594.72,948.16 L595.26,948.78 L595.80,949.28 L596.34,949.64 L596.88,949.87 L597.41,949.96 L597.95,949.93 L598.49,949.77 L599.03,949.47 L599.57,949.05 L600.11,948.49 L600.65,947.80 L601.19,946.99 L601.73,946.04 L602.27,944.97 L602.81,943.77 L603.35,942.45 L603.89,941.00 L604.43,939.43 L604.97,937.74 L605.51,935.93 L606.05,934.01 L606.59,931.96 L607.13,929.81 L607.67,927.54 L608.21,925.16 L608.75,922.68 L609.29,920.09 L609.82,917.40 L610.36,914.61 L610.90,911.73 L611.44,908.75 L611.98,905.68 L612.52,902.52 L613.06,899.28 L613.60,895.96 L614.14,892.56 L614.68,889.08 L615.22,885.53 L615.76,881.92 L616.30,878.24 L616.84,874.50 L617.38,870.70 L617.92,866.85 L618.46,862.95 L619.00,859.01 L619.54,855.02 L620.08,851.00 L620.62,846.94 L621.16,842.86 L621.70,838.75 L622.24,834.61 L622.77,830.46 L623.31,826.30 L623.85,822.12 L624.39,817.94 L624.93,813.76 L625.47,809.59 L626.01,805.42 L626.55,801.26 L627.09,797.11 L627.63,792.99 L628.17,788.89 L628.71,784.82 L629.25,780.78 L629.79,776.77 L630.33,772.81 L630.87,768.88 L631.41,765.01 L631.95,761.19 L632.49,757.42 L633.03,753.71 L633.57,750.06 L634.11,746.48 L634.65,742.97 L635.19,739.53 L635.73,736.17 L636.26,732.88 L636.80,729.68 L637.34,726.57 L637.88,723.55 L638.42,720.61 L638.96,717.78 L639.50,715.04 L640.04,712.40 L640.58,709.86 L641.12,707.43 L641.66,705.11 L642.20,702.90 L642.74,700.80 L643.28,698.81 L643.82,696.94 L644.36,695.19 L644.90,693.56 L645.44,692.06 L645.98,690.67 L646.52,689.41 L647.06,688.28 L647.60,687.27 L648.14,686.39 L648.67,685.64 L649.21,685.02 L649.75,684.52 L650.29,684.16 L650.83,683.93 L651.37,683.84 L651.91,683.87 L652.45,684.03 L652.99,684.33 L653.53,684.75 L654.07,685.31 L654.61,686.00 L655.15,686.81 L655.69,687.76 L656.23,688.83 L656.77,690.03 L657.31,691.35 L657.85,692.80 L658.39,694.37 L658.93,696.06 L659.47,697.87 L660.01,699.79 L660.55,701.84 L661.09,703.99 L661.62,706.26 L662.16,708.64 L662.70,711.12 L663.24,713.71 L663.78,716.40 L664.32,719.19 L664.86,722.07 L665.40,725.05 L665.94,728.12 L666.48,731.28 L667.02,734.52 L667.56,737.84 L668.10,741.24 L668.64,744.72 L669.18,748.27 L669.72,751.88 L670.26,755.56 L670.80,759.30 L671.34,763.10 L671.88,766.95 L672.42,770.85 L672.96,774.79 L673.50,778.78 L674.04,782.80 L674.57,786.86 L675.11,790.94 L675.65,795.05 L676.19,799.19 L676.73,803.34 L677.27,807.50 L677.81,811.68 L678.35,815.86 L678.89,820.04 L679.43,824.21 L679.97,828.38 L680.51,832.54 L681.05,836.69 L681.59,840.81 L682.13,844.91 L682.67,848.98 L683.21,853.02 L683.75,857.03 L684.29,860.99 L684.83,864.92 L685.37,868.79 L685.91,872.61 L686.45,876.38 L686.99,880.09 L687.52,883.74 L688.06,887.32 L688.60,890.83 L689.14,894.27 L689.68,897.63 L690.22,900.92 L690.76,904.12 L691.30,907.23 L691.84,910.25 L692.38,913.19 L692.92,916.02 L693.46,918.76 L694.00,921.40 L694.54,923.94 L695.08,926.37 L695.62,928.69 L696.16,930.90 L696.70,933.00 L697.24,934.99 L697.78,936.86 L698.32,938.61 L698.86,940.24 L699.40,941.74 L699.94,943.13 L700.47,944.39 L701.01,945.52 L701.55,946.53 L702.09,947.41 L702.63,948.16 L703.17,948.78 L703.71,949.28 L704.25,949.64 L704.79,949.87 L705.33,949.96 L705.87,949.93 L706.41,949.77 L706.95,949.47 L707.49,949.05 L708.03,948.49 L708.57,947.80 L709.11,946.99 L709.65,946.04 L710.19,944.97 L710.73,943.77 L711.27,942.45 L711.81,941.00 L712.35,939.43 L712.89,937.74 L713.42,935.93 L713.96,934.01 L714.50,931.96 L715.04,929.81 L715.58,927.54 L716.12,925.16 L716.66,922.68 L717.20,920.09 L717.74,917.40 L718.28,914.61 L718.82,911.73 L719.36,908.75 L719.90,905.68 L720.44,902.52 L720.98,899.28 L721.52,895.96 L722.06,892.56 L722.60,889.08 L723.14,885.53 L723.68,881.92 L724.22,878.24 L724.76,874.50 L725.30,870.70 L725.84,866.85 L726.38,862.95 L726.91,859.01 L727.45,855.02 L727.99,851.00 L728.53,846.94 L729.07,842.86 L729.61,838.75 L730.15,834.61 L730.69,830.46 L731.23,826.30 L731.77,822.12 L732.31,817.94 L732.85,813.76 L733.39,809.59 L733.93,805.42 L734.47,801.26 L735.01,797.11 L735.55,792.99 L736.09,788.89 L736.63,784.82 L737.17,780.78 L737.71,776.77 L738.25,772.81 L738.79,768.88 L739.32,765.01 L739.86,761.19 L740.40,757.42 L740.94,753.71 L741.48,750.06 L742.02,746.48 L742.56,742.97 L743.10,739.53 L743.64,736.17 L744.18,732.88 L744.72,729.68 L745.26,726.57 L745.80,723.55"/></defs>
<g clip-path="url(#c2)" fill="none" stroke-linejoin="round" stroke-linecap="round">
<use href="#pi2" stroke="#3B6FB2" stroke-width="4.7"/><use href="#pi2" stroke="#497FC0" stroke-width="2.5"/>
<use href="#po2" stroke="#B52B30" stroke-width="4.7"/><use href="#po2" stroke="#C44643" stroke-width="2.5"/>
</g>
<text x="98.30" y="852.60" text-anchor="middle" textLength="11.01" lengthAdjust="spacingAndGlyphs" class="tk" style="font-size:20.1px">0</text>
<text x="206.13" y="852.60" text-anchor="middle" textLength="38.53" lengthAdjust="spacingAndGlyphs" class="tk" style="font-size:20.1px">0.02</text>
<text x="313.97" y="852.60" text-anchor="middle" textLength="38.53" lengthAdjust="spacingAndGlyphs" class="tk" style="font-size:20.1px">0.04</text>
<text x="421.80" y="852.60" text-anchor="middle" textLength="38.53" lengthAdjust="spacingAndGlyphs" class="tk" style="font-size:20.1px">0.06</text>
<text x="529.63" y="852.60" text-anchor="middle" textLength="38.53" lengthAdjust="spacingAndGlyphs" class="tk" style="font-size:20.1px">0.08</text>
<text x="637.47" y="852.60" text-anchor="middle" textLength="27.52" lengthAdjust="spacingAndGlyphs" class="tk" style="font-size:20.1px">0.1</text>
<text x="745.30" y="852.60" text-anchor="middle" textLength="38.53" lengthAdjust="spacingAndGlyphs" class="tk" style="font-size:20.1px">0.12</text>
<text x="257.7" y="592.3" textLength="365.9" lengthAdjust="spacingAndGlyphs" class="ti" style="font-size:33px">Time response of filter</text>
<text x="350" y="1027.8" textLength="144.0" lengthAdjust="spacingAndGlyphs" class="ax" style="font-size:18.5px">Time in seconds</text>
<text transform="translate(31.4,859.9) rotate(-90)" x="0" y="0" textLength="86.5" lengthAdjust="spacingAndGlyphs" class="ax" style="font-size:18.5px">Response</text>
<line x1="799.4" y1="813.6" x2="841.1" y2="813.6" stroke="#3B6FB2" stroke-width="4.8" stroke-linecap="round"/>
<line x1="799.4" y1="813.6" x2="841.1" y2="813.6" stroke="#497FC0" stroke-width="2.6" stroke-linecap="round"/>
<line x1="799.4" y1="853.3" x2="841.1" y2="853.3" stroke="#B52B30" stroke-width="4.8" stroke-linecap="round"/>
<line x1="799.4" y1="853.3" x2="841.1" y2="853.3" stroke="#C44643" stroke-width="2.6" stroke-linecap="round"/>
<text x="846.5" y="819.7" textLength="27.2" lengthAdjust="spacingAndGlyphs" class="tk" style="font-size:18.5px">Vin</text>
<text x="846.5" y="859.1" textLength="41.3" lengthAdjust="spacingAndGlyphs" class="tk" style="font-size:18.5px">Vout</text>
<text transform="translate(16.5,1090.8999999999999) scale(1.06,1)" x="0" y="0" textLength="421.6" lengthAdjust="spacing" class="cp">Figure 6: 50 Hz input, 50 Hz cutoff.</text>
<clipPath id="c3"><rect x="102.0" y="1200.7" width="644.0" height="333.7"/></clipPath>
<line x1="95.80" y1="1201.30" x2="744.20" y2="1201.30" stroke="#858585" stroke-width="1.4"/>
<line x1="95.80" y1="1234.48" x2="744.20" y2="1234.48" stroke="#858585" stroke-width="1.4"/>
<line x1="95.80" y1="1267.66" x2="744.20" y2="1267.66" stroke="#858585" stroke-width="1.4"/>
<line x1="95.80" y1="1300.84" x2="744.20" y2="1300.84" stroke="#858585" stroke-width="1.4"/>
<line x1="95.80" y1="1334.02" x2="744.20" y2="1334.02" stroke="#858585" stroke-width="1.4"/>
<line x1="95.80" y1="1367.20" x2="744.20" y2="1367.20" stroke="#858585" stroke-width="1.4"/>
<line x1="95.80" y1="1400.38" x2="744.20" y2="1400.38" stroke="#858585" stroke-width="1.4"/>
<line x1="95.80" y1="1433.56" x2="744.20" y2="1433.56" stroke="#858585" stroke-width="1.4"/>
<line x1="95.80" y1="1466.74" x2="744.20" y2="1466.74" stroke="#858585" stroke-width="1.4"/>
<line x1="95.80" y1="1499.92" x2="744.20" y2="1499.92" stroke="#858585" stroke-width="1.4"/>
<line x1="95.80" y1="1533.10" x2="744.20" y2="1533.10" stroke="#858585" stroke-width="1.4"/>
<line x1="102.20" y1="1201.30" x2="102.20" y2="1533.10" stroke="#858585" stroke-width="1.5"/>
<line x1="209.20" y1="1367.20" x2="209.20" y2="1373.70" stroke="#8e8e8e" stroke-width="1.1"/>
<line x1="316.20" y1="1367.20" x2="316.20" y2="1373.70" stroke="#8e8e8e" stroke-width="1.1"/>
<line x1="423.20" y1="1367.20" x2="423.20" y2="1373.70" stroke="#8e8e8e" stroke-width="1.1"/>
<line x1="530.20" y1="1367.20" x2="530.20" y2="1373.70" stroke="#8e8e8e" stroke-width="1.1"/>
<line x1="637.20" y1="1367.20" x2="637.20" y2="1373.70" stroke="#8e8e8e" stroke-width="1.1"/>
<line x1="744.20" y1="1367.20" x2="744.20" y2="1373.70" stroke="#8e8e8e" stroke-width="1.1"/>
<text x="82.20" y="1207.51" text-anchor="end" textLength="10.36" lengthAdjust="spacingAndGlyphs" class="tk" style="font-size:19.3px">1</text>
<text x="82.20" y="1240.69" text-anchor="end" textLength="25.89" lengthAdjust="spacingAndGlyphs" class="tk" style="font-size:19.3px">0.8</text>
<text x="82.20" y="1273.87" text-anchor="end" textLength="25.89" lengthAdjust="spacingAndGlyphs" class="tk" style="font-size:19.3px">0.6</text>
<text x="82.20" y="1307.05" text-anchor="end" textLength="25.89" lengthAdjust="spacingAndGlyphs" class="tk" style="font-size:19.3px">0.4</text>
<text x="82.20" y="1340.23" text-anchor="end" textLength="25.89" lengthAdjust="spacingAndGlyphs" class="tk" style="font-size:19.3px">0.2</text>
<text x="82.20" y="1373.41" text-anchor="end" textLength="10.36" lengthAdjust="spacingAndGlyphs" class="tk" style="font-size:19.3px">0</text>
<text x="82.20" y="1406.59" text-anchor="end" textLength="32.09" lengthAdjust="spacingAndGlyphs" class="tk" style="font-size:19.3px">-0.2</text>
<text x="82.20" y="1439.77" text-anchor="end" textLength="32.09" lengthAdjust="spacingAndGlyphs" class="tk" style="font-size:19.3px">-0.4</text>
<text x="82.20" y="1472.95" text-anchor="end" textLength="32.09" lengthAdjust="spacingAndGlyphs" class="tk" style="font-size:19.3px">-0.6</text>
<text x="82.20" y="1506.13" text-anchor="end" textLength="32.09" lengthAdjust="spacingAndGlyphs" class="tk" style="font-size:19.3px">-0.8</text>
<text x="82.20" y="1539.31" text-anchor="end" textLength="16.56" lengthAdjust="spacingAndGlyphs" class="tk" style="font-size:19.3px">-1</text>
<defs><path id="pi3" d="M102.20,1201.30 L102.74,1201.31 L103.27,1201.35 L103.81,1201.42 L104.34,1201.51 L104.88,1201.63 L105.41,1201.77 L105.95,1201.94 L106.49,1202.14 L107.02,1202.36 L107.56,1202.61 L108.09,1202.88 L108.63,1203.18 L109.16,1203.51 L109.70,1203.86 L110.24,1204.24 L110.77,1204.64 L111.31,1205.07 L111.84,1205.53 L112.38,1206.01 L112.92,1206.51 L113.45,1207.04 L113.99,1207.60 L114.52,1208.18 L115.06,1208.79 L115.59,1209.42 L116.13,1210.08 L116.67,1210.76 L117.20,1211.46 L117.74,1212.19 L118.27,1212.95 L118.81,1213.73 L119.34,1214.53 L119.88,1215.36 L120.42,1216.21 L120.95,1217.09 L121.49,1217.99 L122.02,1218.91 L122.56,1219.86 L123.09,1220.83 L123.63,1221.82 L124.17,1222.84 L124.70,1223.88 L125.24,1224.94 L125.77,1226.02 L126.31,1227.13 L126.84,1228.25 L127.38,1229.40 L127.92,1230.58 L128.45,1231.77 L128.99,1232.98 L129.52,1234.22 L130.06,1235.48 L130.59,1236.75 L131.13,1238.05 L131.67,1239.37 L132.20,1240.71 L132.74,1242.07 L133.27,1243.45 L133.81,1244.85 L134.34,1246.26 L134.88,1247.70 L135.42,1249.16 L135.95,1250.63 L136.49,1252.12 L137.02,1253.63 L137.56,1255.16 L138.10,1256.71 L138.63,1258.27 L139.17,1259.85 L139.70,1261.45 L140.24,1263.07 L140.77,1264.70 L141.31,1266.34 L141.85,1268.01 L142.38,1269.69 L142.92,1271.38 L143.45,1273.09 L143.99,1274.81 L144.52,1276.55 L145.06,1278.31 L145.60,1280.07 L146.13,1281.85 L146.67,1283.65 L147.20,1285.46 L147.74,1287.28 L148.27,1289.11 L148.81,1290.96 L149.35,1292.81 L149.88,1294.68 L150.42,1296.56 L150.95,1298.46 L151.49,1300.36 L152.02,1302.27 L152.56,1304.19 L153.10,1306.13 L153.63,1308.07 L154.17,1310.02 L154.70,1311.99 L155.24,1313.96 L155.77,1315.93 L156.31,1317.92 L156.85,1319.92 L157.38,1321.92 L157.92,1323.93 L158.45,1325.94 L158.99,1327.96 L159.53,1329.99 L160.06,1332.03 L160.60,1334.07 L161.13,1336.11 L161.67,1338.16 L162.20,1340.22 L162.74,1342.28 L163.28,1344.34 L163.81,1346.41 L164.35,1348.48 L164.88,1350.55 L165.42,1352.63 L165.95,1354.70 L166.49,1356.78 L167.03,1358.86 L167.56,1360.95 L168.10,1363.03 L168.63,1365.12 L169.17,1367.20 L169.70,1369.28 L170.24,1371.37 L170.78,1373.45 L171.31,1375.54 L171.85,1377.62 L172.38,1379.70 L172.92,1381.77 L173.45,1383.85 L173.99,1385.92 L174.53,1387.99 L175.06,1390.06 L175.60,1392.12 L176.13,1394.18 L176.67,1396.24 L177.20,1398.29 L177.74,1400.33 L178.28,1402.37 L178.81,1404.41 L179.35,1406.44 L179.88,1408.46 L180.42,1410.47 L180.96,1412.48 L181.49,1414.48 L182.03,1416.48 L182.56,1418.47 L183.10,1420.44 L183.63,1422.41 L184.17,1424.38 L184.71,1426.33 L185.24,1428.27 L185.78,1430.21 L186.31,1432.13 L186.85,1434.04 L187.38,1435.94 L187.92,1437.84 L188.46,1439.72 L188.99,1441.59 L189.53,1443.44 L190.06,1445.29 L190.60,1447.12 L191.13,1448.94 L191.67,1450.75 L192.21,1452.55 L192.74,1454.33 L193.28,1456.09 L193.81,1457.85 L194.35,1459.59 L194.88,1461.31 L195.42,1463.02 L195.96,1464.71 L196.49,1466.39 L197.03,1468.06 L197.56,1469.70 L198.10,1471.33 L198.63,1472.95 L199.17,1474.55 L199.71,1476.13 L200.24,1477.69 L200.78,1479.24 L201.31,1480.77 L201.85,1482.28 L202.39,1483.77 L202.92,1485.24 L203.46,1486.70 L203.99,1488.14 L204.53,1489.55 L205.06,1490.95 L205.60,1492.33 L206.14,1493.69 L206.67,1495.03 L207.21,1496.35 L207.74,1497.65 L208.28,1498.92 L208.81,1500.18 L209.35,1501.42 L209.89,1502.63 L210.42,1503.82 L210.96,1505.00 L211.49,1506.15 L212.03,1507.27 L212.56,1508.38 L213.10,1509.46 L213.64,1510.52 L214.17,1511.56 L214.71,1512.58 L215.24,1513.57 L215.78,1514.54 L216.31,1515.49 L216.85,1516.41 L217.39,1517.31 L217.92,1518.19 L218.46,1519.04 L218.99,1519.87 L219.53,1520.67 L220.06,1521.45 L220.60,1522.21 L221.14,1522.94 L221.67,1523.64 L222.21,1524.32 L222.74,1524.98 L223.28,1525.61 L223.82,1526.22 L224.35,1526.80 L224.89,1527.36 L225.42,1527.89 L225.96,1528.39 L226.49,1528.87 L227.03,1529.33 L227.57,1529.76 L228.10,1530.16 L228.64,1530.54 L229.17,1530.89 L229.71,1531.22 L230.24,1531.52 L230.78,1531.79 L231.32,1532.04 L231.85,1532.26 L232.39,1532.46 L232.92,1532.63 L233.46,1532.77 L233.99,1532.89 L234.53,1532.98 L235.07,1533.05 L235.60,1533.09 L236.14,1533.10 L236.67,1533.09 L237.21,1533.05 L237.74,1532.98 L238.28,1532.89 L238.82,1532.77 L239.35,1532.63 L239.89,1532.46 L240.42,1532.26 L240.96,1532.04 L241.50,1531.79 L242.03,1531.52 L242.57,1531.22 L243.10,1530.89 L243.64,1530.54 L244.17,1530.16 L244.71,1529.76 L245.25,1529.33 L245.78,1528.87 L246.32,1528.39 L246.85,1527.89 L247.39,1527.36 L247.92,1526.80 L248.46,1526.22 L249.00,1525.61 L249.53,1524.98 L250.07,1524.32 L250.60,1523.64 L251.14,1522.94 L251.67,1522.21 L252.21,1521.45 L252.75,1520.67 L253.28,1519.87 L253.82,1519.04 L254.35,1518.19 L254.89,1517.31 L255.42,1516.41 L255.96,1515.49 L256.50,1514.54 L257.03,1513.57 L257.57,1512.58 L258.10,1511.56 L258.64,1510.52 L259.17,1509.46 L259.71,1508.38 L260.25,1507.27 L260.78,1506.15 L261.32,1505.00 L261.85,1503.82 L262.39,1502.63 L262.93,1501.42 L263.46,1500.18 L264.00,1498.92 L264.53,1497.65 L265.07,1496.35 L265.60,1495.03 L266.14,1493.69 L266.68,1492.33 L267.21,1490.95 L267.75,1489.55 L268.28,1488.14 L268.82,1486.70 L269.35,1485.24 L269.89,1483.77 L270.43,1482.28 L270.96,1480.77 L271.50,1479.24 L272.03,1477.69 L272.57,1476.13 L273.10,1474.55 L273.64,1472.95 L274.18,1471.33 L274.71,1469.70 L275.25,1468.06 L275.78,1466.39 L276.32,1464.71 L276.85,1463.02 L277.39,1461.31 L277.93,1459.59 L278.46,1457.85 L279.00,1456.09 L279.53,1454.33 L280.07,1452.55 L280.60,1450.75 L281.14,1448.94 L281.68,1447.12 L282.21,1445.29 L282.75,1443.44 L283.28,1441.59 L283.82,1439.72 L284.35,1437.84 L284.89,1435.94 L285.43,1434.04 L285.96,1432.13 L286.50,1430.21 L287.03,1428.27 L287.57,1426.33 L288.11,1424.38 L288.64,1422.41 L289.18,1420.44 L289.71,1418.47 L290.25,1416.48 L290.78,1414.48 L291.32,1412.48 L291.86,1410.47 L292.39,1408.46 L292.93,1406.44 L293.46,1404.41 L294.00,1402.37 L294.53,1400.33 L295.07,1398.29 L295.61,1396.24 L296.14,1394.18 L296.68,1392.12 L297.21,1390.06 L297.75,1387.99 L298.28,1385.92 L298.82,1383.85 L299.36,1381.77 L299.89,1379.70 L300.43,1377.62 L300.96,1375.54 L301.50,1373.45 L302.03,1371.37 L302.57,1369.28 L303.11,1367.20 L303.64,1365.12 L304.18,1363.03 L304.71,1360.95 L305.25,1358.86 L305.79,1356.78 L306.32,1354.70 L306.86,1352.63 L307.39,1350.55 L307.93,1348.48 L308.46,1346.41 L309.00,1344.34 L309.54,1342.28 L310.07,1340.22 L310.61,1338.16 L311.14,1336.11 L311.68,1334.07 L312.21,1332.03 L312.75,1329.99 L313.29,1327.96 L313.82,1325.94 L314.36,1323.93 L314.89,1321.92 L315.43,1319.92 L315.96,1317.92 L316.50,1315.93 L317.04,1313.96 L317.57,1311.99 L318.11,1310.02 L318.64,1308.07 L319.18,1306.13 L319.71,1304.19 L320.25,1302.27 L320.79,1300.36 L321.32,1298.46 L321.86,1296.56 L322.39,1294.68 L322.93,1292.81 L323.46,1290.96 L324.00,1289.11 L324.54,1287.28 L325.07,1285.46 L325.61,1283.65 L326.14,1281.85 L326.68,1280.07 L327.21,1278.31 L327.75,1276.55 L328.29,1274.81 L328.82,1273.09 L329.36,1271.38 L329.89,1269.69 L330.43,1268.01 L330.97,1266.34 L331.50,1264.70 L332.04,1263.07 L332.57,1261.45 L333.11,1259.85 L333.64,1258.27 L334.18,1256.71 L334.72,1255.16 L335.25,1253.63 L335.79,1252.12 L336.32,1250.63 L336.86,1249.16 L337.39,1247.70 L337.93,1246.26 L338.47,1244.85 L339.00,1243.45 L339.54,1242.07 L340.07,1240.71 L340.61,1239.37 L341.14,1238.05 L341.68,1236.75 L342.22,1235.48 L342.75,1234.22 L343.29,1232.98 L343.82,1231.77 L344.36,1230.58 L344.89,1229.40 L345.43,1228.25 L345.97,1227.13 L346.50,1226.02 L347.04,1224.94 L347.57,1223.88 L348.11,1222.84 L348.64,1221.82 L349.18,1220.83 L349.72,1219.86 L350.25,1218.91 L350.79,1217.99 L351.32,1217.09 L351.86,1216.21 L352.40,1215.36 L352.93,1214.53 L353.47,1213.73 L354.00,1212.95 L354.54,1212.19 L355.07,1211.46 L355.61,1210.76 L356.15,1210.08 L356.68,1209.42 L357.22,1208.79 L357.75,1208.18 L358.29,1207.60 L358.82,1207.04 L359.36,1206.51 L359.90,1206.01 L360.43,1205.53 L360.97,1205.07 L361.50,1204.64 L362.04,1204.24 L362.57,1203.86 L363.11,1203.51 L363.65,1203.18 L364.18,1202.88 L364.72,1202.61 L365.25,1202.36 L365.79,1202.14 L366.32,1201.94 L366.86,1201.77 L367.40,1201.63 L367.93,1201.51 L368.47,1201.42 L369.00,1201.35 L369.54,1201.31 L370.07,1201.30 L370.61,1201.31 L371.15,1201.35 L371.68,1201.42 L372.22,1201.51 L372.75,1201.63 L373.29,1201.77 L373.83,1201.94 L374.36,1202.14 L374.90,1202.36 L375.43,1202.61 L375.97,1202.88 L376.50,1203.18 L377.04,1203.51 L377.58,1203.86 L378.11,1204.24 L378.65,1204.64 L379.18,1205.07 L379.72,1205.53 L380.25,1206.01 L380.79,1206.51 L381.33,1207.04 L381.86,1207.60 L382.40,1208.18 L382.93,1208.79 L383.47,1209.42 L384.00,1210.08 L384.54,1210.76 L385.08,1211.46 L385.61,1212.19 L386.15,1212.95 L386.68,1213.73 L387.22,1214.53 L387.75,1215.36 L388.29,1216.21 L388.83,1217.09 L389.36,1217.99 L389.90,1218.91 L390.43,1219.86 L390.97,1220.83 L391.50,1221.82 L392.04,1222.84 L392.58,1223.88 L393.11,1224.94 L393.65,1226.02 L394.18,1227.13 L394.72,1228.25 L395.26,1229.40 L395.79,1230.58 L396.33,1231.77 L396.86,1232.98 L397.40,1234.22 L397.93,1235.48 L398.47,1236.75 L399.01,1238.05 L399.54,1239.37 L400.08,1240.71 L400.61,1242.07 L401.15,1243.45 L401.68,1244.85 L402.22,1246.26 L402.76,1247.70 L403.29,1249.16 L403.83,1250.63 L404.36,1252.12 L404.90,1253.63 L405.43,1255.16 L405.97,1256.71 L406.51,1258.27 L407.04,1259.85 L407.58,1261.45 L408.11,1263.07 L408.65,1264.70 L409.18,1266.34 L409.72,1268.01 L410.26,1269.69 L410.79,1271.38 L411.33,1273.09 L411.86,1274.81 L412.40,1276.55 L412.93,1278.31 L413.47,1280.07 L414.01,1281.85 L414.54,1283.65 L415.08,1285.46 L415.61,1287.28 L416.15,1289.11 L416.69,1290.96 L417.22,1292.81 L417.76,1294.68 L418.29,1296.56 L418.83,1298.46 L419.36,1300.36 L419.90,1302.27 L420.44,1304.19 L420.97,1306.13 L421.51,1308.07 L422.04,1310.02 L422.58,1311.99 L423.11,1313.96 L423.65,1315.93 L424.19,1317.92 L424.72,1319.92 L425.26,1321.92 L425.79,1323.93 L426.33,1325.94 L426.86,1327.96 L427.40,1329.99 L427.94,1332.03 L428.47,1334.07 L429.01,1336.11 L429.54,1338.16 L430.08,1340.22 L430.61,1342.28 L431.15,1344.34 L431.69,1346.41 L432.22,1348.48 L432.76,1350.55 L433.29,1352.63 L433.83,1354.70 L434.36,1356.78 L434.90,1358.86 L435.44,1360.95 L435.97,1363.03 L436.51,1365.12 L437.04,1367.20 L437.58,1369.28 L438.12,1371.37 L438.65,1373.45 L439.19,1375.54 L439.72,1377.62 L440.26,1379.70 L440.79,1381.77 L441.33,1383.85 L441.87,1385.92 L442.40,1387.99 L442.94,1390.06 L443.47,1392.12 L444.01,1394.18 L444.54,1396.24 L445.08,1398.29 L445.62,1400.33 L446.15,1402.37 L446.69,1404.41 L447.22,1406.44 L447.76,1408.46 L448.29,1410.47 L448.83,1412.48 L449.37,1414.48 L449.90,1416.48 L450.44,1418.47 L450.97,1420.44 L451.51,1422.41 L452.04,1424.38 L452.58,1426.33 L453.12,1428.27 L453.65,1430.21 L454.19,1432.13 L454.72,1434.04 L455.26,1435.94 L455.79,1437.84 L456.33,1439.72 L456.87,1441.59 L457.40,1443.44 L457.94,1445.29 L458.47,1447.12 L459.01,1448.94 L459.55,1450.75 L460.08,1452.55 L460.62,1454.33 L461.15,1456.09 L461.69,1457.85 L462.22,1459.59 L462.76,1461.31 L463.30,1463.02 L463.83,1464.71 L464.37,1466.39 L464.90,1468.06 L465.44,1469.70 L465.97,1471.33 L466.51,1472.95 L467.05,1474.55 L467.58,1476.13 L468.12,1477.69 L468.65,1479.24 L469.19,1480.77 L469.72,1482.28 L470.26,1483.77 L470.80,1485.24 L471.33,1486.70 L471.87,1488.14 L472.40,1489.55 L472.94,1490.95 L473.47,1492.33 L474.01,1493.69 L474.55,1495.03 L475.08,1496.35 L475.62,1497.65 L476.15,1498.92 L476.69,1500.18 L477.22,1501.42 L477.76,1502.63 L478.30,1503.82 L478.83,1505.00 L479.37,1506.15 L479.90,1507.27 L480.44,1508.38 L480.98,1509.46 L481.51,1510.52 L482.05,1511.56 L482.58,1512.58 L483.12,1513.57 L483.65,1514.54 L484.19,1515.49 L484.73,1516.41 L485.26,1517.31 L485.80,1518.19 L486.33,1519.04 L486.87,1519.87 L487.40,1520.67 L487.94,1521.45 L488.48,1522.21 L489.01,1522.94 L489.55,1523.64 L490.08,1524.32 L490.62,1524.98 L491.15,1525.61 L491.69,1526.22 L492.23,1526.80 L492.76,1527.36 L493.30,1527.89 L493.83,1528.39 L494.37,1528.87 L494.90,1529.33 L495.44,1529.76 L495.98,1530.16 L496.51,1530.54 L497.05,1530.89 L497.58,1531.22 L498.12,1531.52 L498.65,1531.79 L499.19,1532.04 L499.73,1532.26 L500.26,1532.46 L500.80,1532.63 L501.33,1532.77 L501.87,1532.89 L502.41,1532.98 L502.94,1533.05 L503.48,1533.09 L504.01,1533.10 L504.55,1533.09 L505.08,1533.05 L505.62,1532.98 L506.16,1532.89 L506.69,1532.77 L507.23,1532.63 L507.76,1532.46 L508.30,1532.26 L508.83,1532.04 L509.37,1531.79 L509.91,1531.52 L510.44,1531.22 L510.98,1530.89 L511.51,1530.54 L512.05,1530.16 L512.58,1529.76 L513.12,1529.33 L513.66,1528.87 L514.19,1528.39 L514.73,1527.89 L515.26,1527.36 L515.80,1526.80 L516.33,1526.22 L516.87,1525.61 L517.41,1524.98 L517.94,1524.32 L518.48,1523.64 L519.01,1522.94 L519.55,1522.21 L520.09,1521.45 L520.62,1520.67 L521.16,1519.87 L521.69,1519.04 L522.23,1518.19 L522.76,1517.31 L523.30,1516.41 L523.84,1515.49 L524.37,1514.54 L524.91,1513.57 L525.44,1512.58 L525.98,1511.56 L526.51,1510.52 L527.05,1509.46 L527.59,1508.38 L528.12,1507.27 L528.66,1506.15 L529.19,1505.00 L529.73,1503.82 L530.26,1502.63 L530.80,1501.42 L531.34,1500.18 L531.87,1498.92 L532.41,1497.65 L532.94,1496.35 L533.48,1495.03 L534.01,1493.69 L534.55,1492.33 L535.09,1490.95 L535.62,1489.55 L536.16,1488.14 L536.69,1486.70 L537.23,1485.24 L537.76,1483.77 L538.30,1482.28 L538.84,1480.77 L539.37,1479.24 L539.91,1477.69 L540.44,1476.13 L540.98,1474.55 L541.51,1472.95 L542.05,1471.33 L542.59,1469.70 L543.12,1468.06 L543.66,1466.39 L544.19,1464.71 L544.73,1463.02 L545.27,1461.31 L545.80,1459.59 L546.34,1457.85 L546.87,1456.09 L547.41,1454.33 L547.94,1452.55 L548.48,1450.75 L549.02,1448.94 L549.55,1447.12 L550.09,1445.29 L550.62,1443.44 L551.16,1441.59 L551.69,1439.72 L552.23,1437.84 L552.77,1435.94 L553.30,1434.04 L553.84,1432.13 L554.37,1430.21 L554.91,1428.27 L555.44,1426.33 L555.98,1424.38 L556.52,1422.41 L557.05,1420.44 L557.59,1418.47 L558.12,1416.48 L558.66,1414.48 L559.19,1412.48 L559.73,1410.47 L560.27,1408.46 L560.80,1406.44 L561.34,1404.41 L561.87,1402.37 L562.41,1400.33 L562.94,1398.29 L563.48,1396.24 L564.02,1394.18 L564.55,1392.12 L565.09,1390.06 L565.62,1387.99 L566.16,1385.92 L566.70,1383.85 L567.23,1381.77 L567.77,1379.70 L568.30,1377.62 L568.84,1375.54 L569.37,1373.45 L569.91,1371.37 L570.45,1369.28 L570.98,1367.20 L571.52,1365.12 L572.05,1363.03 L572.59,1360.95 L573.12,1358.86 L573.66,1356.78 L574.20,1354.70 L574.73,1352.63 L575.27,1350.55 L575.80,1348.48 L576.34,1346.41 L576.87,1344.34 L577.41,1342.28 L577.95,1340.22 L578.48,1338.16 L579.02,1336.11 L579.55,1334.07 L580.09,1332.03 L580.62,1329.99 L581.16,1327.96 L581.70,1325.94 L582.23,1323.93 L582.77,1321.92 L583.30,1319.92 L583.84,1317.92 L584.38,1315.93 L584.91,1313.96 L585.45,1311.99 L585.98,1310.02 L586.52,1308.07 L587.05,1306.13 L587.59,1304.19 L588.13,1302.27 L588.66,1300.36 L589.20,1298.46 L589.73,1296.56 L590.27,1294.68 L590.80,1292.81 L591.34,1290.96 L591.88,1289.11 L592.41,1287.28 L592.95,1285.46 L593.48,1283.65 L594.02,1281.85 L594.55,1280.07 L595.09,1278.31 L595.63,1276.55 L596.16,1274.81 L596.70,1273.09 L597.23,1271.38 L597.77,1269.69 L598.30,1268.01 L598.84,1266.34 L599.38,1264.70 L599.91,1263.07 L600.45,1261.45 L600.98,1259.85 L601.52,1258.27 L602.05,1256.71 L602.59,1255.16 L603.13,1253.63 L603.66,1252.12 L604.20,1250.63 L604.73,1249.16 L605.27,1247.70 L605.80,1246.26 L606.34,1244.85 L606.88,1243.45 L607.41,1242.07 L607.95,1240.71 L608.48,1239.37 L609.02,1238.05 L609.56,1236.75 L610.09,1235.48 L610.63,1234.22 L611.16,1232.98 L611.70,1231.77 L612.23,1230.58 L612.77,1229.40 L613.31,1228.25 L613.84,1227.13 L614.38,1226.02 L614.91,1224.94 L615.45,1223.88 L615.98,1222.84 L616.52,1221.82 L617.06,1220.83 L617.59,1219.86 L618.13,1218.91 L618.66,1217.99 L619.20,1217.09 L619.73,1216.21 L620.27,1215.36 L620.81,1214.53 L621.34,1213.73 L621.88,1212.95 L622.41,1212.19 L622.95,1211.46 L623.48,1210.76 L624.02,1210.08 L624.56,1209.42 L625.09,1208.79 L625.63,1208.18 L626.16,1207.60 L626.70,1207.04 L627.24,1206.51 L627.77,1206.01 L628.31,1205.53 L628.84,1205.07 L629.38,1204.64 L629.91,1204.24 L630.45,1203.86 L630.99,1203.51 L631.52,1203.18 L632.06,1202.88 L632.59,1202.61 L633.13,1202.36 L633.66,1202.14 L634.20,1201.94 L634.74,1201.77 L635.27,1201.63 L635.81,1201.51 L636.34,1201.42 L636.88,1201.35 L637.41,1201.31 L637.95,1201.30 L638.49,1201.31 L639.02,1201.35 L639.56,1201.42 L640.09,1201.51 L640.63,1201.63 L641.16,1201.77 L641.70,1201.94 L642.24,1202.14 L642.77,1202.36 L643.31,1202.61 L643.84,1202.88 L644.38,1203.18 L644.91,1203.51 L645.45,1203.86 L645.99,1204.24 L646.52,1204.64 L647.06,1205.07 L647.59,1205.53 L648.13,1206.01 L648.66,1206.51 L649.20,1207.04 L649.74,1207.60 L650.27,1208.18 L650.81,1208.79 L651.34,1209.42 L651.88,1210.08 L652.42,1210.76 L652.95,1211.46 L653.49,1212.19 L654.02,1212.95 L654.56,1213.73 L655.09,1214.53 L655.63,1215.36 L656.17,1216.21 L656.70,1217.09 L657.24,1217.99 L657.77,1218.91 L658.31,1219.86 L658.84,1220.83 L659.38,1221.82 L659.92,1222.84 L660.45,1223.88 L660.99,1224.94 L661.52,1226.02 L662.06,1227.13 L662.59,1228.25 L663.13,1229.40 L663.67,1230.58 L664.20,1231.77 L664.74,1232.98 L665.27,1234.22 L665.81,1235.48 L666.34,1236.75 L666.88,1238.05 L667.42,1239.37 L667.95,1240.71 L668.49,1242.07 L669.02,1243.45 L669.56,1244.85 L670.10,1246.26 L670.63,1247.70 L671.17,1249.16 L671.70,1250.63 L672.24,1252.12 L672.77,1253.63 L673.31,1255.16 L673.85,1256.71 L674.38,1258.27 L674.92,1259.85 L675.45,1261.45 L675.99,1263.07 L676.52,1264.70 L677.06,1266.34 L677.60,1268.01 L678.13,1269.69 L678.67,1271.38 L679.20,1273.09 L679.74,1274.81 L680.27,1276.55 L680.81,1278.31 L681.35,1280.07 L681.88,1281.85 L682.42,1283.65 L682.95,1285.46 L683.49,1287.28 L684.02,1289.11 L684.56,1290.96 L685.10,1292.81 L685.63,1294.68 L686.17,1296.56 L686.70,1298.46 L687.24,1300.36 L687.77,1302.27 L688.31,1304.19 L688.85,1306.13 L689.38,1308.07 L689.92,1310.02 L690.45,1311.99 L690.99,1313.96 L691.52,1315.93 L692.06,1317.92 L692.60,1319.92 L693.13,1321.92 L693.67,1323.93 L694.20,1325.94 L694.74,1327.96 L695.28,1329.99 L695.81,1332.03 L696.35,1334.07 L696.88,1336.11 L697.42,1338.16 L697.95,1340.22 L698.49,1342.28 L699.03,1344.34 L699.56,1346.41 L700.10,1348.48 L700.63,1350.55 L701.17,1352.63 L701.70,1354.70 L702.24,1356.78 L702.78,1358.86 L703.31,1360.95 L703.85,1363.03 L704.38,1365.12 L704.92,1367.20 L705.45,1369.28 L705.99,1371.37 L706.53,1373.45 L707.06,1375.54 L707.60,1377.62 L708.13,1379.70 L708.67,1381.77 L709.20,1383.85 L709.74,1385.92 L710.28,1387.99 L710.81,1390.06 L711.35,1392.12 L711.88,1394.18 L712.42,1396.24 L712.96,1398.29 L713.49,1400.33 L714.03,1402.37 L714.56,1404.41 L715.10,1406.44 L715.63,1408.46 L716.17,1410.47 L716.71,1412.48 L717.24,1414.48 L717.78,1416.48 L718.31,1418.47 L718.85,1420.44 L719.38,1422.41 L719.92,1424.38 L720.46,1426.33 L720.99,1428.27 L721.53,1430.21 L722.06,1432.13 L722.60,1434.04 L723.13,1435.94 L723.67,1437.84 L724.21,1439.72 L724.74,1441.59 L725.28,1443.44 L725.81,1445.29 L726.35,1447.12 L726.88,1448.94 L727.42,1450.75 L727.96,1452.55 L728.49,1454.33 L729.03,1456.09 L729.56,1457.85 L730.10,1459.59 L730.63,1461.31 L731.17,1463.02 L731.71,1464.71 L732.24,1466.39 L732.78,1468.06 L733.31,1469.70 L733.85,1471.33 L734.38,1472.95 L734.92,1474.55 L735.46,1476.13 L735.99,1477.69 L736.53,1479.24 L737.06,1480.77 L737.60,1482.28 L738.14,1483.77 L738.67,1485.24 L739.21,1486.70 L739.74,1488.14 L740.28,1489.55 L740.81,1490.95 L741.35,1492.33 L741.89,1493.69 L742.42,1495.03 L742.96,1496.35 L743.49,1497.65 L744.03,1498.92 L744.56,1500.18 L745.10,1501.42"/><path id="po3" d="M102.20,1367.20 L102.74,1361.99 L103.27,1356.94 L103.81,1352.05 L104.34,1347.32 L104.88,1342.74 L105.41,1338.31 L105.95,1334.02 L106.49,1329.87 L107.02,1325.85 L107.56,1321.98 L108.09,1318.23 L108.63,1314.60 L109.16,1311.10 L109.70,1307.72 L110.24,1304.46 L110.77,1301.31 L111.31,1298.27 L111.84,1295.34 L112.38,1292.52 L112.92,1289.80 L113.45,1287.19 L113.99,1284.67 L114.52,1282.25 L115.06,1279.92 L115.59,1277.69 L116.13,1275.54 L116.67,1273.49 L117.20,1271.52 L117.74,1269.63 L118.27,1267.82 L118.81,1266.10 L119.34,1264.46 L119.88,1262.89 L120.42,1261.39 L120.95,1259.97 L121.49,1258.63 L122.02,1257.35 L122.56,1256.14 L123.09,1255.00 L123.63,1253.93 L124.17,1252.92 L124.70,1251.98 L125.24,1251.09 L125.77,1250.27 L126.31,1249.51 L126.84,1248.81 L127.38,1248.16 L127.92,1247.57 L128.45,1247.04 L128.99,1246.56 L129.52,1246.13 L130.06,1245.76 L130.59,1245.43 L131.13,1245.16 L131.67,1244.94 L132.20,1244.76 L132.74,1244.64 L133.27,1244.56 L133.81,1244.52 L134.34,1244.53 L134.88,1244.59 L135.42,1244.68 L135.95,1244.82 L136.49,1245.01 L137.02,1245.23 L137.56,1245.49 L138.10,1245.80 L138.63,1246.14 L139.17,1246.52 L139.70,1246.94 L140.24,1247.40 L140.77,1247.89 L141.31,1248.42 L141.85,1248.98 L142.38,1249.58 L142.92,1250.21 L143.45,1250.87 L143.99,1251.57 L144.52,1252.30 L145.06,1253.06 L145.60,1253.86 L146.13,1254.68 L146.67,1255.53 L147.20,1256.42 L147.74,1257.33 L148.27,1258.27 L148.81,1259.24 L149.35,1260.24 L149.88,1261.26 L150.42,1262.31 L150.95,1263.39 L151.49,1264.49 L152.02,1265.61 L152.56,1266.77 L153.10,1267.94 L153.63,1269.14 L154.17,1270.36 L154.70,1271.61 L155.24,1272.88 L155.77,1274.17 L156.31,1275.48 L156.85,1276.81 L157.38,1278.17 L157.92,1279.54 L158.45,1280.94 L158.99,1282.35 L159.53,1283.78 L160.06,1285.24 L160.60,1286.71 L161.13,1288.19 L161.67,1289.70 L162.20,1291.22 L162.74,1292.76 L163.28,1294.32 L163.81,1295.89 L164.35,1297.48 L164.88,1299.08 L165.42,1300.69 L165.95,1302.33 L166.49,1303.97 L167.03,1305.63 L167.56,1307.30 L168.10,1308.99 L168.63,1310.69 L169.17,1312.40 L169.70,1314.12 L170.24,1315.85 L170.78,1317.60 L171.31,1319.35 L171.85,1321.12 L172.38,1322.89 L172.92,1324.67 L173.45,1326.47 L173.99,1328.27 L174.53,1330.08 L175.06,1331.90 L175.60,1333.73 L176.13,1335.56 L176.67,1337.40 L177.20,1339.25 L177.74,1341.11 L178.28,1342.97 L178.81,1344.83 L179.35,1346.71 L179.88,1348.58 L180.42,1350.46 L180.96,1352.35 L181.49,1354.24 L182.03,1356.13 L182.56,1358.03 L183.10,1359.93 L183.63,1361.83 L184.17,1363.73 L184.71,1365.64 L185.24,1367.54 L185.78,1369.45 L186.31,1371.36 L186.85,1373.27 L187.38,1375.18 L187.92,1377.09 L188.46,1378.99 L188.99,1380.90 L189.53,1382.81 L190.06,1384.71 L190.60,1386.62 L191.13,1388.52 L191.67,1390.42 L192.21,1392.31 L192.74,1394.20 L193.28,1396.09 L193.81,1397.98 L194.35,1399.86 L194.88,1401.73 L195.42,1403.61 L195.96,1405.47 L196.49,1407.33 L197.03,1409.19 L197.56,1411.04 L198.10,1412.88 L198.63,1414.72 L199.17,1416.55 L199.71,1418.37 L200.24,1420.18 L200.78,1421.99 L201.31,1423.79 L201.85,1425.58 L202.39,1427.36 L202.92,1429.13 L203.46,1430.90 L203.99,1432.65 L204.53,1434.39 L205.06,1436.12 L205.60,1437.85 L206.14,1439.56 L206.67,1441.26 L207.21,1442.95 L207.74,1444.63 L208.28,1446.29 L208.81,1447.95 L209.35,1449.59 L209.89,1451.21 L210.42,1452.83 L210.96,1454.43 L211.49,1456.02 L212.03,1457.59 L212.56,1459.16 L213.10,1460.70 L213.64,1462.23 L214.17,1463.75 L214.71,1465.25 L215.24,1466.74 L215.78,1468.21 L216.31,1469.67 L216.85,1471.11 L217.39,1472.53 L217.92,1473.94 L218.46,1475.33 L218.99,1476.70 L219.53,1478.06 L220.06,1479.39 L220.60,1480.72 L221.14,1482.02 L221.67,1483.30 L222.21,1484.57 L222.74,1485.82 L223.28,1487.05 L223.82,1488.26 L224.35,1489.45 L224.89,1490.63 L225.42,1491.78 L225.96,1492.92 L226.49,1494.03 L227.03,1495.13 L227.57,1496.20 L228.10,1497.25 L228.64,1498.29 L229.17,1499.30 L229.71,1500.29 L230.24,1501.27 L230.78,1502.22 L231.32,1503.14 L231.85,1504.05 L232.39,1504.94 L232.92,1505.80 L233.46,1506.65 L233.99,1507.47 L234.53,1508.27 L235.07,1509.04 L235.60,1509.80 L236.14,1510.53 L236.67,1511.24 L237.21,1511.92 L237.74,1512.59 L238.28,1513.23 L238.82,1513.85 L239.35,1514.44 L239.89,1515.01 L240.42,1515.56 L240.96,1516.08 L241.50,1516.59 L242.03,1517.06 L242.57,1517.52 L243.10,1517.95 L243.64,1518.35 L244.17,1518.74 L244.71,1519.10 L245.25,1519.43 L245.78,1519.74 L246.32,1520.03 L246.85,1520.29 L247.39,1520.53 L247.92,1520.74 L248.46,1520.94 L249.00,1521.10 L249.53,1521.24 L250.07,1521.36 L250.60,1521.45 L251.14,1521.52 L251.67,1521.57 L252.21,1521.59 L252.75,1521.58 L253.28,1521.55 L253.82,1521.50 L254.35,1521.42 L254.89,1521.32 L255.42,1521.20 L255.96,1521.05 L256.50,1520.87 L257.03,1520.67 L257.57,1520.45 L258.10,1520.20 L258.64,1519.93 L259.17,1519.63 L259.71,1519.32 L260.25,1518.97 L260.78,1518.60 L261.32,1518.21 L261.85,1517.80 L262.39,1517.36 L262.93,1516.90 L263.46,1516.41 L264.00,1515.90 L264.53,1515.37 L265.07,1514.81 L265.60,1514.23 L266.14,1513.63 L266.68,1513.00 L267.21,1512.35 L267.75,1511.68 L268.28,1510.98 L268.82,1510.27 L269.35,1509.53 L269.89,1508.76 L270.43,1507.98 L270.96,1507.17 L271.50,1506.34 L272.03,1505.49 L272.57,1504.62 L273.10,1503.72 L273.64,1502.80 L274.18,1501.87 L274.71,1500.91 L275.25,1499.93 L275.78,1498.93 L276.32,1497.90 L276.85,1496.86 L277.39,1495.80 L277.93,1494.71 L278.46,1493.61 L279.00,1492.49 L279.53,1491.34 L280.07,1490.18 L280.60,1489.00 L281.14,1487.80 L281.68,1486.58 L282.21,1485.34 L282.75,1484.08 L283.28,1482.80 L283.82,1481.51 L284.35,1480.19 L284.89,1478.86 L285.43,1477.52 L285.96,1476.15 L286.50,1474.77 L287.03,1473.37 L287.57,1471.95 L288.11,1470.52 L288.64,1469.07 L289.18,1467.60 L289.71,1466.12 L290.25,1464.62 L290.78,1463.11 L291.32,1461.58 L291.86,1460.04 L292.39,1458.48 L292.93,1456.91 L293.46,1455.33 L294.00,1453.73 L294.53,1452.11 L295.07,1450.49 L295.61,1448.85 L296.14,1447.19 L296.68,1445.53 L297.21,1443.85 L297.75,1442.16 L298.28,1440.46 L298.82,1438.75 L299.36,1437.02 L299.89,1435.29 L300.43,1433.54 L300.96,1431.78 L301.50,1430.01 L302.03,1428.24 L302.57,1426.45 L303.11,1424.66 L303.64,1422.85 L304.18,1421.04 L304.71,1419.21 L305.25,1417.38 L305.79,1415.55 L306.32,1413.70 L306.86,1411.85 L307.39,1409.99 L307.93,1408.12 L308.46,1406.24 L309.00,1404.36 L309.54,1402.48 L310.07,1400.59 L310.61,1398.69 L311.14,1396.79 L311.68,1394.88 L312.21,1392.97 L312.75,1391.06 L313.29,1389.14 L313.82,1387.22 L314.36,1385.29 L314.89,1383.36 L315.43,1381.43 L315.96,1379.50 L316.50,1377.57 L317.04,1375.63 L317.57,1373.69 L318.11,1371.75 L318.64,1369.82 L319.18,1367.88 L319.71,1365.94 L320.25,1364.00 L320.79,1362.06 L321.32,1360.12 L321.86,1358.18 L322.39,1356.25 L322.93,1354.31 L323.46,1352.38 L324.00,1350.45 L324.54,1348.52 L325.07,1346.60 L325.61,1344.68 L326.14,1342.76 L326.68,1340.85 L327.21,1338.94 L327.75,1337.03 L328.29,1335.13 L328.82,1333.24 L329.36,1331.35 L329.89,1329.46 L330.43,1327.59 L330.97,1325.71 L331.50,1323.85 L332.04,1321.99 L332.57,1320.14 L333.11,1318.30 L333.64,1316.46 L334.18,1314.63 L334.72,1312.81 L335.25,1311.00 L335.79,1309.20 L336.32,1307.41 L336.86,1305.62 L337.39,1303.85 L337.93,1302.08 L338.47,1300.33 L339.00,1298.59 L339.54,1296.86 L340.07,1295.13 L340.61,1293.42 L341.14,1291.73 L341.68,1290.04 L342.22,1288.37 L342.75,1286.70 L343.29,1285.06 L343.82,1283.42 L344.36,1281.80 L344.89,1280.19 L345.43,1278.59 L345.97,1277.01 L346.50,1275.44 L347.04,1273.89 L347.57,1272.35 L348.11,1270.83 L348.64,1269.32 L349.18,1267.83 L349.72,1266.35 L350.25,1264.89 L350.79,1263.45 L351.32,1262.02 L351.86,1260.61 L352.40,1259.21 L352.93,1257.84 L353.47,1256.48 L354.00,1255.13 L354.54,1253.81 L355.07,1252.50 L355.61,1251.21 L356.15,1249.94 L356.68,1248.69 L357.22,1247.45 L357.75,1246.24 L358.29,1245.04 L358.82,1243.87 L359.36,1242.71 L359.90,1241.57 L360.43,1240.46 L360.97,1239.36 L361.50,1238.28 L362.04,1237.22 L362.57,1236.19 L363.11,1235.17 L363.65,1234.18 L364.18,1233.20 L364.72,1232.25 L365.25,1231.32 L365.79,1230.41 L366.32,1229.52 L366.86,1228.66 L367.40,1227.81 L367.93,1226.99 L368.47,1226.19 L369.00,1225.41 L369.54,1224.65 L370.07,1223.92 L370.61,1223.21 L371.15,1222.52 L371.68,1221.86 L372.22,1221.22 L372.75,1220.60 L373.29,1220.00 L373.83,1219.43 L374.36,1218.88 L374.90,1218.35 L375.43,1217.85 L375.97,1217.37 L376.50,1216.92 L377.04,1216.48 L377.58,1216.08 L378.11,1215.69 L378.65,1215.33 L379.18,1215.00 L379.72,1214.69 L380.25,1214.40 L380.79,1214.13 L381.33,1213.89 L381.86,1213.68 L382.40,1213.49 L382.93,1213.32 L383.47,1213.18 L384.00,1213.06 L384.54,1212.97 L385.08,1212.90 L385.61,1212.85 L386.15,1212.83 L386.68,1212.84 L387.22,1212.86 L387.75,1212.92 L388.29,1212.99 L388.83,1213.09 L389.36,1213.22 L389.90,1213.37 L390.43,1213.54 L390.97,1213.74 L391.50,1213.96 L392.04,1214.21 L392.58,1214.48 L393.11,1214.78 L393.65,1215.10 L394.18,1215.44 L394.72,1215.81 L395.26,1216.20 L395.79,1216.61 L396.33,1217.05 L396.86,1217.51 L397.40,1218.00 L397.93,1218.51 L398.47,1219.04 L399.01,1219.60 L399.54,1220.18 L400.08,1220.78 L400.61,1221.41 L401.15,1222.06 L401.68,1222.73 L402.22,1223.42 L402.76,1224.14 L403.29,1224.88 L403.83,1225.64 L404.36,1226.43 L404.90,1227.24 L405.43,1228.07 L405.97,1228.92 L406.51,1229.79 L407.04,1230.68 L407.58,1231.60 L408.11,1232.54 L408.65,1233.50 L409.18,1234.48 L409.72,1235.48 L410.26,1236.50 L410.79,1237.54 L411.33,1238.61 L411.86,1239.69 L412.40,1240.79 L412.93,1241.92 L413.47,1243.06 L414.01,1244.22 L414.54,1245.41 L415.08,1246.61 L415.61,1247.83 L416.15,1249.07 L416.69,1250.32 L417.22,1251.60 L417.76,1252.90 L418.29,1254.21 L418.83,1255.54 L419.36,1256.89 L419.90,1258.25 L420.44,1259.64 L420.97,1261.04 L421.51,1262.45 L422.04,1263.89 L422.58,1265.33 L423.11,1266.80 L423.65,1268.28 L424.19,1269.78 L424.72,1271.29 L425.26,1272.82 L425.79,1274.36 L426.33,1275.92 L426.86,1277.49 L427.40,1279.08 L427.94,1280.68 L428.47,1282.29 L429.01,1283.92 L429.54,1285.56 L430.08,1287.21 L430.61,1288.87 L431.15,1290.55 L431.69,1292.24 L432.22,1293.94 L432.76,1295.66 L433.29,1297.38 L433.83,1299.12 L434.36,1300.86 L434.90,1302.62 L435.44,1304.39 L435.97,1306.16 L436.51,1307.95 L437.04,1309.75 L437.58,1311.55 L438.12,1313.36 L438.65,1315.19 L439.19,1317.02 L439.72,1318.86 L440.26,1320.70 L440.79,1322.55 L441.33,1324.42 L441.87,1326.28 L442.40,1328.16 L442.94,1330.04 L443.47,1331.92 L444.01,1333.81 L444.54,1335.71 L445.08,1337.61 L445.62,1339.52 L446.15,1341.43 L446.69,1343.34 L447.22,1345.26 L447.76,1347.18 L448.29,1349.11 L448.83,1351.04 L449.37,1352.97 L449.90,1354.90 L450.44,1356.83 L450.97,1358.77 L451.51,1360.71 L452.04,1362.65 L452.58,1364.58 L453.12,1366.52 L453.65,1368.46 L454.19,1370.40 L454.72,1372.34 L455.26,1374.28 L455.79,1376.22 L456.33,1378.15 L456.87,1380.09 L457.40,1382.02 L457.94,1383.95 L458.47,1385.88 L459.01,1387.80 L459.55,1389.72 L460.08,1391.64 L460.62,1393.55 L461.15,1395.46 L461.69,1397.37 L462.22,1399.27 L462.76,1401.16 L463.30,1403.05 L463.83,1404.94 L464.37,1406.81 L464.90,1408.69 L465.44,1410.55 L465.97,1412.41 L466.51,1414.26 L467.05,1416.10 L467.58,1417.94 L468.12,1419.77 L468.65,1421.59 L469.19,1423.40 L469.72,1425.20 L470.26,1426.99 L470.80,1428.78 L471.33,1430.55 L471.87,1432.32 L472.40,1434.07 L472.94,1435.81 L473.47,1437.54 L474.01,1439.27 L474.55,1440.98 L475.08,1442.67 L475.62,1444.36 L476.15,1446.03 L476.69,1447.70 L477.22,1449.34 L477.76,1450.98 L478.30,1452.60 L478.83,1454.21 L479.37,1455.81 L479.90,1457.39 L480.44,1458.96 L480.98,1460.51 L481.51,1462.05 L482.05,1463.57 L482.58,1465.08 L483.12,1466.57 L483.65,1468.05 L484.19,1469.51 L484.73,1470.95 L485.26,1472.38 L485.80,1473.79 L486.33,1475.19 L486.87,1476.56 L487.40,1477.92 L487.94,1479.27 L488.48,1480.59 L489.01,1481.90 L489.55,1483.19 L490.08,1484.46 L490.62,1485.71 L491.15,1486.95 L491.69,1488.16 L492.23,1489.36 L492.76,1490.53 L493.30,1491.69 L493.83,1492.83 L494.37,1493.94 L494.90,1495.04 L495.44,1496.12 L495.98,1497.18 L496.51,1498.21 L497.05,1499.23 L497.58,1500.22 L498.12,1501.20 L498.65,1502.15 L499.19,1503.08 L499.73,1503.99 L500.26,1504.88 L500.80,1505.74 L501.33,1506.59 L501.87,1507.41 L502.41,1508.21 L502.94,1508.99 L503.48,1509.75 L504.01,1510.48 L504.55,1511.19 L505.08,1511.88 L505.62,1512.54 L506.16,1513.18 L506.69,1513.80 L507.23,1514.40 L507.76,1514.97 L508.30,1515.52 L508.83,1516.05 L509.37,1516.55 L509.91,1517.03 L510.44,1517.48 L510.98,1517.92 L511.51,1518.32 L512.05,1518.71 L512.58,1519.07 L513.12,1519.40 L513.66,1519.71 L514.19,1520.00 L514.73,1520.27 L515.26,1520.51 L515.80,1520.72 L516.33,1520.91 L516.87,1521.08 L517.41,1521.22 L517.94,1521.34 L518.48,1521.43 L519.01,1521.50 L519.55,1521.55 L520.09,1521.57 L520.62,1521.56 L521.16,1521.54 L521.69,1521.48 L522.23,1521.41 L522.76,1521.31 L523.30,1521.18 L523.84,1521.03 L524.37,1520.86 L524.91,1520.66 L525.44,1520.44 L525.98,1520.19 L526.51,1519.92 L527.05,1519.62 L527.59,1519.30 L528.12,1518.96 L528.66,1518.59 L529.19,1518.20 L529.73,1517.79 L530.26,1517.35 L530.80,1516.89 L531.34,1516.40 L531.87,1515.89 L532.41,1515.36 L532.94,1514.80 L533.48,1514.22 L534.01,1513.62 L534.55,1512.99 L535.09,1512.34 L535.62,1511.67 L536.16,1510.98 L536.69,1510.26 L537.23,1509.52 L537.76,1508.76 L538.30,1507.97 L538.84,1507.16 L539.37,1506.33 L539.91,1505.48 L540.44,1504.61 L540.98,1503.72 L541.51,1502.80 L542.05,1501.86 L542.59,1500.90 L543.12,1499.92 L543.66,1498.92 L544.19,1497.90 L544.73,1496.86 L545.27,1495.79 L545.80,1494.71 L546.34,1493.61 L546.87,1492.48 L547.41,1491.34 L547.94,1490.18 L548.48,1488.99 L549.02,1487.79 L549.55,1486.57 L550.09,1485.33 L550.62,1484.08 L551.16,1482.80 L551.69,1481.50 L552.23,1480.19 L552.77,1478.86 L553.30,1477.51 L553.84,1476.15 L554.37,1474.76 L554.91,1473.36 L555.44,1471.95 L555.98,1470.51 L556.52,1469.07 L557.05,1467.60 L557.59,1466.12 L558.12,1464.62 L558.66,1463.11 L559.19,1461.58 L559.73,1460.04 L560.27,1458.48 L560.80,1456.91 L561.34,1455.32 L561.87,1453.72 L562.41,1452.11 L562.94,1450.48 L563.48,1448.84 L564.02,1447.19 L564.55,1445.53 L565.09,1443.85 L565.62,1442.16 L566.16,1440.46 L566.70,1438.74 L567.23,1437.02 L567.77,1435.28 L568.30,1433.54 L568.84,1431.78 L569.37,1430.01 L569.91,1428.24 L570.45,1426.45 L570.98,1424.65 L571.52,1422.85 L572.05,1421.04 L572.59,1419.21 L573.12,1417.38 L573.66,1415.54 L574.20,1413.70 L574.73,1411.85 L575.27,1409.98 L575.80,1408.12 L576.34,1406.24 L576.87,1404.36 L577.41,1402.48 L577.95,1400.59 L578.48,1398.69 L579.02,1396.79 L579.55,1394.88 L580.09,1392.97 L580.62,1391.06 L581.16,1389.14 L581.70,1387.22 L582.23,1385.29 L582.77,1383.36 L583.30,1381.43 L583.84,1379.50 L584.38,1377.57 L584.91,1375.63 L585.45,1373.69 L585.98,1371.75 L586.52,1369.82 L587.05,1367.88 L587.59,1365.94 L588.13,1364.00 L588.66,1362.06 L589.20,1360.12 L589.73,1358.18 L590.27,1356.25 L590.80,1354.31 L591.34,1352.38 L591.88,1350.45 L592.41,1348.52 L592.95,1346.60 L593.48,1344.68 L594.02,1342.76 L594.55,1340.85 L595.09,1338.94 L595.63,1337.03 L596.16,1335.13 L596.70,1333.24 L597.23,1331.35 L597.77,1329.46 L598.30,1327.59 L598.84,1325.71 L599.38,1323.85 L599.91,1321.99 L600.45,1320.14 L600.98,1318.30 L601.52,1316.46 L602.05,1314.63 L602.59,1312.81 L603.13,1311.00 L603.66,1309.20 L604.20,1307.41 L604.73,1305.62 L605.27,1303.85 L605.80,1302.08 L606.34,1300.33 L606.88,1298.59 L607.41,1296.86 L607.95,1295.13 L608.48,1293.42 L609.02,1291.73 L609.56,1290.04 L610.09,1288.37 L610.63,1286.70 L611.16,1285.06 L611.70,1283.42 L612.23,1281.80 L612.77,1280.19 L613.31,1278.59 L613.84,1277.01 L614.38,1275.44 L614.91,1273.89 L615.45,1272.35 L615.98,1270.83 L616.52,1269.32 L617.06,1267.83 L617.59,1266.35 L618.13,1264.89 L618.66,1263.45 L619.20,1262.02 L619.73,1260.61 L620.27,1259.21 L620.81,1257.84 L621.34,1256.48 L621.88,1255.13 L622.41,1253.81 L622.95,1252.50 L623.48,1251.21 L624.02,1249.94 L624.56,1248.69 L625.09,1247.45 L625.63,1246.24 L626.16,1245.04 L626.70,1243.87 L627.24,1242.71 L627.77,1241.57 L628.31,1240.46 L628.84,1239.36 L629.38,1238.28 L629.91,1237.22 L630.45,1236.19 L630.99,1235.17 L631.52,1234.18 L632.06,1233.20 L632.59,1232.25 L633.13,1231.32 L633.66,1230.41 L634.20,1229.52 L634.74,1228.66 L635.27,1227.81 L635.81,1226.99 L636.34,1226.19 L636.88,1225.41 L637.41,1224.65 L637.95,1223.92 L638.49,1223.21 L639.02,1222.52 L639.56,1221.86 L640.09,1221.22 L640.63,1220.60 L641.16,1220.00 L641.70,1219.43 L642.24,1218.88 L642.77,1218.35 L643.31,1217.85 L643.84,1217.37 L644.38,1216.92 L644.91,1216.48 L645.45,1216.08 L645.99,1215.69 L646.52,1215.33 L647.06,1215.00 L647.59,1214.69 L648.13,1214.40 L648.66,1214.13 L649.20,1213.89 L649.74,1213.68 L650.27,1213.49 L650.81,1213.32 L651.34,1213.18 L651.88,1213.06 L652.42,1212.97 L652.95,1212.90 L653.49,1212.85 L654.02,1212.83 L654.56,1212.84 L655.09,1212.86 L655.63,1212.92 L656.17,1212.99 L656.70,1213.09 L657.24,1213.22 L657.77,1213.37 L658.31,1213.54 L658.84,1213.74 L659.38,1213.96 L659.92,1214.21 L660.45,1214.48 L660.99,1214.78 L661.52,1215.10 L662.06,1215.44 L662.59,1215.81 L663.13,1216.20 L663.67,1216.61 L664.20,1217.05 L664.74,1217.51 L665.27,1218.00 L665.81,1218.51 L666.34,1219.04 L666.88,1219.60 L667.42,1220.18 L667.95,1220.78 L668.49,1221.41 L669.02,1222.06 L669.56,1222.73 L670.10,1223.42 L670.63,1224.14 L671.17,1224.88 L671.70,1225.64 L672.24,1226.43 L672.77,1227.24 L673.31,1228.07 L673.85,1228.92 L674.38,1229.79 L674.92,1230.68 L675.45,1231.60 L675.99,1232.54 L676.52,1233.50 L677.06,1234.48 L677.60,1235.48 L678.13,1236.50 L678.67,1237.54 L679.20,1238.61 L679.74,1239.69 L680.27,1240.79 L680.81,1241.92 L681.35,1243.06 L681.88,1244.22 L682.42,1245.41 L682.95,1246.61 L683.49,1247.83 L684.02,1249.07 L684.56,1250.32 L685.10,1251.60 L685.63,1252.90 L686.17,1254.21 L686.70,1255.54 L687.24,1256.89 L687.77,1258.25 L688.31,1259.64 L688.85,1261.04 L689.38,1262.45 L689.92,1263.89 L690.45,1265.33 L690.99,1266.80 L691.52,1268.28 L692.06,1269.78 L692.60,1271.29 L693.13,1272.82 L693.67,1274.36 L694.20,1275.92 L694.74,1277.49 L695.28,1279.08 L695.81,1280.68 L696.35,1282.29 L696.88,1283.92 L697.42,1285.56 L697.95,1287.21 L698.49,1288.87 L699.03,1290.55 L699.56,1292.24 L700.10,1293.94 L700.63,1295.66 L701.17,1297.38 L701.70,1299.12 L702.24,1300.86 L702.78,1302.62 L703.31,1304.39 L703.85,1306.16 L704.38,1307.95 L704.92,1309.75 L705.45,1311.55 L705.99,1313.36 L706.53,1315.19 L707.06,1317.02 L707.60,1318.86 L708.13,1320.70 L708.67,1322.55 L709.20,1324.42 L709.74,1326.28 L710.28,1328.16 L710.81,1330.04 L711.35,1331.92 L711.88,1333.81 L712.42,1335.71 L712.96,1337.61 L713.49,1339.52 L714.03,1341.43 L714.56,1343.34 L715.10,1345.26 L715.63,1347.18 L716.17,1349.11 L716.71,1351.04 L717.24,1352.97 L717.78,1354.90 L718.31,1356.83 L718.85,1358.77 L719.38,1360.71 L719.92,1362.65 L720.46,1364.58 L720.99,1366.52 L721.53,1368.46 L722.06,1370.40 L722.60,1372.34 L723.13,1374.28 L723.67,1376.22 L724.21,1378.15 L724.74,1380.09 L725.28,1382.02 L725.81,1383.95 L726.35,1385.88 L726.88,1387.80 L727.42,1389.72 L727.96,1391.64 L728.49,1393.55 L729.03,1395.46 L729.56,1397.37 L730.10,1399.27 L730.63,1401.16 L731.17,1403.05 L731.71,1404.94 L732.24,1406.81 L732.78,1408.69 L733.31,1410.55 L733.85,1412.41 L734.38,1414.26 L734.92,1416.10 L735.46,1417.94 L735.99,1419.77 L736.53,1421.59 L737.06,1423.40 L737.60,1425.20 L738.14,1426.99 L738.67,1428.78 L739.21,1430.55 L739.74,1432.32 L740.28,1434.07 L740.81,1435.81 L741.35,1437.54 L741.89,1439.27 L742.42,1440.98 L742.96,1442.67 L743.49,1444.36 L744.03,1446.03 L744.56,1447.70 L745.10,1449.34"/></defs>
<g clip-path="url(#c3)" fill="none" stroke-linejoin="round" stroke-linecap="round">
<use href="#pi3" stroke="#3B6FB2" stroke-width="4.5"/><use href="#pi3" stroke="#497FC0" stroke-width="2.3"/>
<use href="#po3" stroke="#B52B30" stroke-width="4.5"/><use href="#po3" stroke="#C44643" stroke-width="2.3"/>
</g>
<text x="102.20" y="1401.50" text-anchor="middle" textLength="10.57" lengthAdjust="spacingAndGlyphs" class="tk" style="font-size:19.3px">0</text>
<text x="209.20" y="1401.50" text-anchor="middle" textLength="36.99" lengthAdjust="spacingAndGlyphs" class="tk" style="font-size:19.3px">0.02</text>
<text x="316.20" y="1401.50" text-anchor="middle" textLength="36.99" lengthAdjust="spacingAndGlyphs" class="tk" style="font-size:19.3px">0.04</text>
<text x="423.20" y="1401.50" text-anchor="middle" textLength="36.99" lengthAdjust="spacingAndGlyphs" class="tk" style="font-size:19.3px">0.06</text>
<text x="530.20" y="1401.50" text-anchor="middle" textLength="36.99" lengthAdjust="spacingAndGlyphs" class="tk" style="font-size:19.3px">0.08</text>
<text x="637.20" y="1401.50" text-anchor="middle" textLength="26.42" lengthAdjust="spacingAndGlyphs" class="tk" style="font-size:19.3px">0.1</text>
<text x="744.20" y="1401.50" text-anchor="middle" textLength="36.99" lengthAdjust="spacingAndGlyphs" class="tk" style="font-size:19.3px">0.12</text>
<text x="261" y="1163.3" textLength="352.3" lengthAdjust="spacingAndGlyphs" class="ti" style="font-size:31.7px">Time response of filter</text>
<text x="354" y="1556.7" textLength="138.9" lengthAdjust="spacingAndGlyphs" class="ax" style="font-size:17.8px">Time in seconds</text>
<text transform="translate(38.3,1409.2) rotate(-90)" x="0" y="0" textLength="83.4" lengthAdjust="spacingAndGlyphs" class="ax" style="font-size:17.8px">Response</text>
<line x1="796.4" y1="1364.1" x2="836.5" y2="1364.1" stroke="#3B6FB2" stroke-width="4.8" stroke-linecap="round"/>
<line x1="796.4" y1="1364.1" x2="836.5" y2="1364.1" stroke="#497FC0" stroke-width="2.6" stroke-linecap="round"/>
<line x1="796.4" y1="1402.3" x2="836.5" y2="1402.3" stroke="#B52B30" stroke-width="4.8" stroke-linecap="round"/>
<line x1="796.4" y1="1402.3" x2="836.5" y2="1402.3" stroke="#C44643" stroke-width="2.6" stroke-linecap="round"/>
<text x="842" y="1369.7" textLength="26" lengthAdjust="spacingAndGlyphs" class="tk" style="font-size:17.7px">Vin</text>
<text x="842" y="1407.8" textLength="39.9" lengthAdjust="spacingAndGlyphs" class="tk" style="font-size:17.7px">Vout</text>
<text transform="translate(16.5,1619.8) scale(1.06,1)" x="0" y="0" textLength="421.6" lengthAdjust="spacing" class="cp">Figure 7: 20 Hz input, 50 Hz cutoff.</text>
</svg>
</body></html>
